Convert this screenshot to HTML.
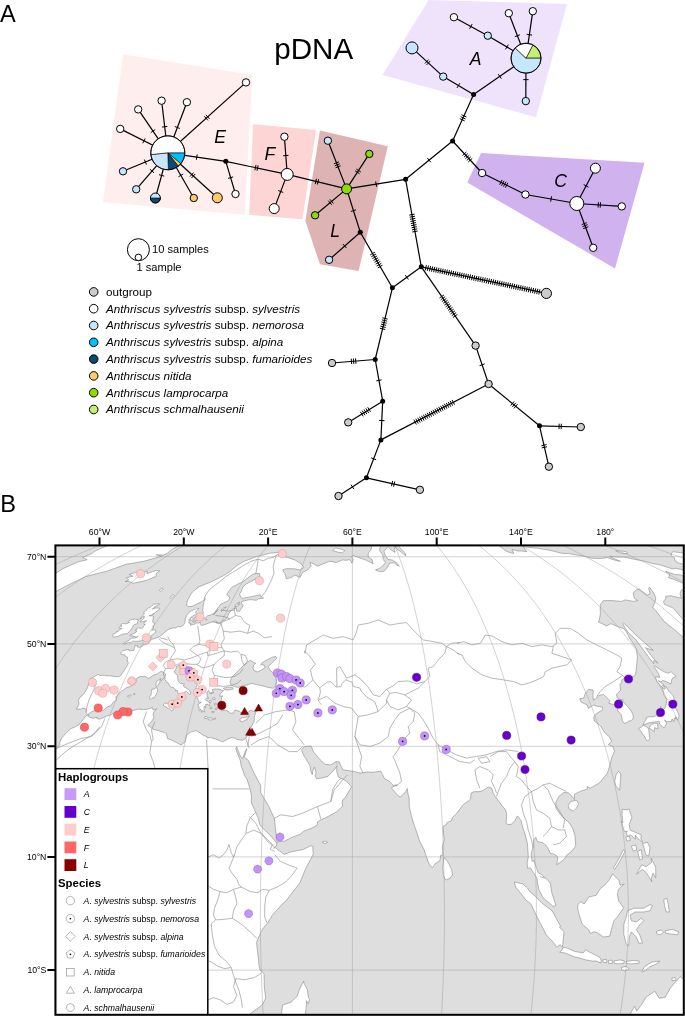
<!DOCTYPE html>
<html><head><meta charset="utf-8"><title>pDNA haplotype network and map</title>
<style>
html,body{margin:0;padding:0;background:#fff}
body{width:685px;height:1017px;overflow:hidden}
svg{display:block}
svg text{font-family:"Liberation Sans",sans-serif;fill:#000}
</style></head><body>
<svg width="685" height="1017" viewBox="0 0 685 1017">
<rect width="685" height="1017" fill="#fff"/>
<polygon fill="#feeeed" points="123.2,54.2 252.3,75.0 244.8,214.8 103.0,202.3"/>
<polygon fill="#fdd5d5" points="253.0,124.2 316.1,130.0 302.4,219.3 249.2,214.8"/>
<polygon fill="#ddb3b3" points="319.9,130.5 387.8,146.2 358.6,271.0 319.9,264.3 305.4,221.1"/>
<polygon fill="#efe2fb" points="428.7,0.0 567.0,4.0 536.0,117.3 382.5,74.9"/>
<polygon fill="#cfb2ee" points="481.1,153.1 644.6,162.7 615.0,268.4 467.3,182.6"/>
<g stroke="#000" stroke-width="1.2" stroke-linecap="butt">
<line x1="167.8" y1="152.8" x2="246.0" y2="82.4"/>
<line x1="167.8" y1="152.8" x2="161.6" y2="100.7"/>
<line x1="167.8" y1="152.8" x2="186.9" y2="102.2"/>
<line x1="167.8" y1="152.8" x2="138.2" y2="109.4"/>
<line x1="167.8" y1="152.8" x2="120.2" y2="128.9"/>
<line x1="167.8" y1="152.8" x2="123.0" y2="171.3"/>
<line x1="167.8" y1="152.8" x2="136.2" y2="189.3"/>
<line x1="167.8" y1="152.8" x2="155.4" y2="198.0"/>
<line x1="167.8" y1="152.8" x2="193.8" y2="198.0"/>
<line x1="167.8" y1="152.8" x2="217.3" y2="197.8"/>
<line x1="167.8" y1="152.8" x2="225.8" y2="161.3"/>
<line x1="225.8" y1="161.3" x2="235.5" y2="194.0"/>
<line x1="225.8" y1="161.3" x2="287.2" y2="174.4"/>
<line x1="287.2" y1="174.4" x2="284.4" y2="136.7"/>
<line x1="287.2" y1="174.4" x2="274.2" y2="208.6"/>
<line x1="287.2" y1="174.4" x2="346.6" y2="188.9"/>
<line x1="346.6" y1="188.9" x2="327.9" y2="140.7"/>
<line x1="346.6" y1="188.9" x2="369.3" y2="153.9"/>
<line x1="346.6" y1="188.9" x2="315.1" y2="215.3"/>
<line x1="346.6" y1="188.9" x2="360.3" y2="232.3"/>
<line x1="360.3" y1="232.3" x2="329.1" y2="259.8"/>
<line x1="360.3" y1="232.3" x2="392.4" y2="287.8"/>
<line x1="346.6" y1="188.9" x2="405.6" y2="179.3"/>
<line x1="405.6" y1="179.3" x2="452.6" y2="141.0"/>
<line x1="405.6" y1="179.3" x2="421.3" y2="266.8"/>
<line x1="452.6" y1="141.0" x2="473.6" y2="94.6"/>
<line x1="452.6" y1="141.0" x2="482.1" y2="173.0"/>
<line x1="421.3" y1="266.8" x2="392.4" y2="287.8"/>
<line x1="421.3" y1="266.8" x2="546.4" y2="293.4"/>
<line x1="421.3" y1="266.8" x2="475.6" y2="345.6"/>
<line x1="392.4" y1="287.8" x2="375.2" y2="359.5"/>
<line x1="375.2" y1="359.5" x2="332.0" y2="363.0"/>
<line x1="375.2" y1="359.5" x2="382.7" y2="401.2"/>
<line x1="382.7" y1="401.2" x2="348.2" y2="422.4"/>
<line x1="382.7" y1="401.2" x2="380.9" y2="439.9"/>
<line x1="380.9" y1="439.9" x2="488.6" y2="384.0"/>
<line x1="380.9" y1="439.9" x2="366.4" y2="477.8"/>
<line x1="366.4" y1="477.8" x2="338.5" y2="496.0"/>
<line x1="366.4" y1="477.8" x2="419.9" y2="489.8"/>
<line x1="475.6" y1="345.6" x2="488.6" y2="384.0"/>
<line x1="488.6" y1="384.0" x2="539.5" y2="425.8"/>
<line x1="539.5" y1="425.8" x2="580.8" y2="427.0"/>
<line x1="539.5" y1="425.8" x2="548.9" y2="466.7"/>
<line x1="473.6" y1="94.6" x2="526.0" y2="58.2"/>
<line x1="473.6" y1="94.6" x2="443.2" y2="76.6"/>
<line x1="443.2" y1="76.6" x2="412.0" y2="47.9"/>
<line x1="526.0" y1="58.2" x2="487.8" y2="35.7"/>
<line x1="487.8" y1="35.7" x2="453.9" y2="17.2"/>
<line x1="526.0" y1="58.2" x2="508.8" y2="13.2"/>
<line x1="526.0" y1="58.2" x2="532.8" y2="11.2"/>
<line x1="526.0" y1="58.2" x2="525.8" y2="101.1"/>
<line x1="482.1" y1="173.0" x2="525.4" y2="194.5"/>
<line x1="525.4" y1="194.5" x2="576.8" y2="203.5"/>
<line x1="576.8" y1="203.5" x2="595.4" y2="168.2"/>
<line x1="576.8" y1="203.5" x2="621.8" y2="206.4"/>
<line x1="576.8" y1="203.5" x2="593.2" y2="247.8"/>
</g>
<path d="M204.29 116.31L207.91 120.33M205.89 114.87L209.51 118.89M162.02 127.07L167.38 126.43M174.82 126.55L179.88 128.45M150.77 132.62L155.23 129.58M142.79 143.26L145.21 138.44M146.43 164.55L144.37 159.55M154.04 172.82L149.96 169.28M164.20 176.11L159.00 174.69M183.14 174.05L178.46 176.75M193.57 172.58L189.94 176.57M195.16 174.03L191.53 178.02M197.19 154.38L196.41 159.72M233.24 176.88L228.06 178.42M256.01 164.99L254.89 170.27M258.11 165.43L256.99 170.71M283.11 155.75L288.49 155.35M283.22 192.46L278.18 190.54M316.50 178.77L315.22 184.02M318.58 179.28L317.30 184.53M335.51 167.78L340.54 165.83M334.73 165.78L339.77 163.82M333.96 163.77L338.99 161.82M355.10 170.83L359.63 173.77M356.27 169.03L360.80 171.97M333.41 203.48L329.94 199.34M331.76 204.86L328.29 200.72M356.02 209.79L350.88 211.41M346.49 248.08L342.91 244.02M374.92 252.18L370.25 254.89M376.00 254.05L371.32 256.75M377.07 255.91L372.40 258.61M378.15 257.77L373.47 260.47M379.23 259.63L374.55 262.33M380.30 261.49L375.63 264.19M381.38 263.35L376.70 266.05M382.45 265.21L377.78 267.92M375.67 181.44L376.53 186.76M427.39 158.06L430.81 162.24M414.59 214.11L409.27 215.06M414.97 216.22L409.65 217.18M415.35 218.34L410.03 219.29M415.73 220.46L410.41 221.41M416.11 222.57L410.79 223.53M416.49 224.69L411.17 225.64M416.87 226.81L411.55 227.76M417.25 228.92L411.93 229.88M417.63 231.04L412.31 231.99M459.75 118.65L464.67 120.87M460.64 116.69L465.56 118.91M461.53 114.73L466.45 116.95M466.42 152.01L462.45 155.67M467.88 153.59L463.91 157.25M469.34 155.17L465.36 158.83M470.79 156.75L466.82 160.41M472.25 158.33L468.28 161.99M408.44 279.48L405.26 275.12M426.36 265.12L425.24 270.40M428.46 265.56L427.34 270.84M430.57 266.01L429.44 271.29M432.67 266.46L431.55 271.74M434.77 266.90L433.65 272.19M436.87 267.35L435.75 272.63M438.98 267.80L437.85 273.08M441.08 268.25L439.96 273.53M443.18 268.69L442.06 273.97M445.29 269.14L444.16 274.42M447.39 269.59L446.27 274.87M449.49 270.03L448.37 275.32M451.60 270.48L450.47 275.76M453.70 270.93L452.58 276.21M455.80 271.38L454.68 276.66M457.90 271.82L456.78 277.10M460.01 272.27L458.88 277.55M462.11 272.72L460.99 278.00M464.21 273.16L463.09 278.45M466.32 273.61L465.19 278.89M468.42 274.06L467.30 279.34M470.52 274.51L469.40 279.79M472.63 274.95L471.50 280.23M474.73 275.40L473.60 280.68M476.83 275.85L475.71 281.13M478.93 276.29L477.81 281.58M481.04 276.74L479.91 282.02M483.14 277.19L482.02 282.47M485.24 277.64L484.12 282.92M487.35 278.08L486.22 283.36M489.45 278.53L488.33 283.81M491.55 278.98L490.43 284.26M493.65 279.42L492.53 284.71M495.76 279.87L494.63 285.15M497.86 280.32L496.74 285.60M499.96 280.77L498.84 286.05M502.07 281.21L500.94 286.50M504.17 281.66L503.05 286.94M506.27 282.11L505.15 287.39M508.38 282.55L507.25 287.84M510.48 283.00L509.36 288.28M512.58 283.45L511.46 288.73M514.68 283.90L513.56 289.18M516.79 284.34L515.66 289.63M518.89 284.79L517.77 290.07M520.99 285.24L519.87 290.52M523.10 285.68L521.97 290.97M525.20 286.13L524.08 291.41M527.30 286.58L526.18 291.86M529.41 287.03L528.28 292.31M531.51 287.47L530.39 292.76M533.61 287.92L532.49 293.20M535.71 288.37L534.59 293.65M537.82 288.81L536.69 294.10M539.92 289.26L538.80 294.54M443.96 294.93L439.52 297.99M445.18 296.70L440.74 299.77M446.40 298.47L441.96 301.54M447.62 300.24L443.18 303.31M448.84 302.01L444.40 305.08M450.06 303.78L445.62 306.85M451.28 305.55L446.84 308.62M452.50 307.32L448.06 310.39M453.72 309.09L449.28 312.16M454.94 310.86L450.50 313.93M456.16 312.63L451.72 315.70M457.38 314.41L452.94 317.47M387.68 319.05L382.43 317.79M387.18 321.14L381.93 319.88M386.68 323.23L381.43 321.97M386.17 325.33L380.92 324.07M385.67 327.42L380.42 326.16M385.17 329.51L379.92 328.25M355.96 363.77L355.52 358.39M353.82 363.94L353.38 358.56M351.68 364.11L351.24 358.73M381.61 379.87L376.29 380.83M370.53 411.85L367.70 407.25M368.70 412.97L365.87 408.37M366.86 414.10L364.04 409.50M365.03 415.23L362.20 410.63M363.20 416.35L360.37 411.75M384.50 420.68L379.10 420.42M413.89 419.73L416.38 424.53M415.80 418.74L418.29 423.54M417.71 417.75L420.20 422.55M419.62 416.76L422.10 421.56M421.52 415.77L424.01 420.57M423.43 414.78L425.92 419.58M425.34 413.79L427.83 418.58M427.25 412.80L429.74 417.59M429.16 411.81L431.64 416.60M431.07 410.82L433.55 415.61M432.97 409.83L435.46 414.62M434.88 408.84L437.37 413.63M436.79 407.85L439.28 412.64M438.70 406.86L441.19 411.65M440.61 405.87L443.09 410.66M442.51 404.88L445.00 409.67M444.42 403.89L446.91 408.68M446.33 402.90L448.82 407.69M448.24 401.91L450.73 406.70M450.15 400.92L452.64 405.71M452.06 399.93L454.54 404.72M376.17 459.81L371.13 457.89M353.93 489.16L350.97 484.64M392.69 480.93L391.51 486.20M394.79 481.40L393.61 486.67M484.66 363.93L479.54 365.67M514.10 401.45L510.67 405.62M515.76 402.81L512.34 406.99M517.43 404.18L514.00 408.35M559.15 423.67L559.00 429.07M561.30 423.73L561.15 429.13M546.59 444.60L541.33 445.81M547.07 446.69L541.81 447.90M498.26 74.18L501.34 78.62M457.02 87.92L459.78 83.28M426.56 64.96L430.22 60.99M424.98 63.51L428.64 59.54M505.53 49.28L508.27 44.62M469.56 28.82L472.14 24.08M514.88 36.66L519.92 34.74M526.73 34.31L532.07 35.09M528.60 79.66L523.20 79.64M502.06 179.90L499.66 184.73M503.99 180.85L501.59 185.69M505.91 181.81L503.51 186.65M507.84 182.77L505.44 187.60M551.57 196.34L550.63 201.66M583.71 184.59L588.49 187.11M598.40 202.19L598.05 207.58M600.55 202.32L600.20 207.71M586.79 222.70L581.72 224.57M587.53 224.71L582.47 226.59M588.28 226.73L583.21 228.60" stroke="#000" stroke-width="1" fill="none"/>
<circle cx="167.8" cy="152.8" r="17.0" fill="#fff"/>
<path d="M167.80 152.80L184.80 152.80A17.00 17.00 0 0 1 180.82 163.73Z" fill="#00bfff" stroke="#000" stroke-width="0.6" stroke-linejoin="round"/>
<path d="M167.80 152.80L180.82 163.73A17.00 17.00 0 0 1 178.27 166.20Z" fill="#fbcb6b" stroke="#000" stroke-width="0.6" stroke-linejoin="round"/>
<path d="M167.80 152.80L178.27 166.20A17.00 17.00 0 0 1 168.39 169.79Z" fill="#0b4a72" stroke="#000" stroke-width="0.6" stroke-linejoin="round"/>
<path d="M167.80 152.80L168.39 169.79A17.00 17.00 0 0 1 150.89 154.58Z" fill="#c6e6fb" stroke="#000" stroke-width="0.6" stroke-linejoin="round"/>
<path d="M167.80 152.80L150.89 154.58A17.00 17.00 0 1 1 184.80 152.80Z" fill="#ffffff" stroke="#000" stroke-width="0.6" stroke-linejoin="round"/>
<circle cx="167.8" cy="152.8" r="17.0" fill="none" stroke="#000" stroke-width="1"/>
<circle cx="246.0" cy="82.4" r="3.7" fill="#ffffff" stroke="#000" stroke-width="1"/>
<circle cx="161.6" cy="100.7" r="3.7" fill="#ffffff" stroke="#000" stroke-width="1"/>
<circle cx="186.9" cy="102.2" r="3.7" fill="#ffffff" stroke="#000" stroke-width="1"/>
<circle cx="138.2" cy="109.4" r="3.7" fill="#ffffff" stroke="#000" stroke-width="1"/>
<circle cx="120.2" cy="128.9" r="3.7" fill="#ffffff" stroke="#000" stroke-width="1"/>
<circle cx="123.0" cy="171.3" r="3.7" fill="#c6e6fb" stroke="#000" stroke-width="1"/>
<circle cx="136.2" cy="189.3" r="3.7" fill="#c6e6fb" stroke="#000" stroke-width="1"/>
<circle cx="155.4" cy="198.0" r="5.0" fill="#c6e6fb"/>
<path d="M160.4 198.0A5.0 5.0 0 0 1 150.4 198.0Z" fill="#0b4a72" stroke="#000" stroke-width="0.6"/>
<circle cx="155.4" cy="198.0" r="5.0" fill="none" stroke="#000" stroke-width="1"/>
<circle cx="193.8" cy="198.0" r="3.7" fill="#fbcb6b" stroke="#000" stroke-width="1"/>
<circle cx="217.3" cy="197.8" r="5.0" fill="#fbcb6b" stroke="#000" stroke-width="1"/>
<circle cx="225.8" cy="161.3" r="2.5" fill="#000"/>
<circle cx="235.5" cy="194.0" r="3.7" fill="#ffffff" stroke="#000" stroke-width="1"/>
<circle cx="287.2" cy="174.4" r="6.0" fill="#ffffff" stroke="#000" stroke-width="1"/>
<circle cx="284.4" cy="136.7" r="3.7" fill="#ffffff" stroke="#000" stroke-width="1"/>
<circle cx="274.2" cy="208.6" r="5.0" fill="#ffffff" stroke="#000" stroke-width="1"/>
<circle cx="346.6" cy="188.9" r="5.0" fill="#8edb00" stroke="#000" stroke-width="1"/>
<circle cx="327.9" cy="140.7" r="3.7" fill="#c6e6fb" stroke="#000" stroke-width="1"/>
<circle cx="369.3" cy="153.9" r="3.7" fill="#8edb00" stroke="#000" stroke-width="1"/>
<circle cx="315.1" cy="215.3" r="3.7" fill="#8edb00" stroke="#000" stroke-width="1"/>
<circle cx="360.3" cy="232.3" r="2.5" fill="#000"/>
<circle cx="329.1" cy="259.8" r="3.7" fill="#c6e6fb" stroke="#000" stroke-width="1"/>
<circle cx="405.6" cy="179.3" r="2.5" fill="#000"/>
<circle cx="452.6" cy="141.0" r="2.5" fill="#000"/>
<circle cx="421.3" cy="266.8" r="2.5" fill="#000"/>
<circle cx="392.4" cy="287.8" r="2.5" fill="#000"/>
<circle cx="375.2" cy="359.5" r="2.5" fill="#000"/>
<circle cx="382.7" cy="401.2" r="2.5" fill="#000"/>
<circle cx="380.9" cy="439.9" r="2.5" fill="#000"/>
<circle cx="366.4" cy="477.8" r="2.5" fill="#000"/>
<circle cx="539.5" cy="425.8" r="2.5" fill="#000"/>
<circle cx="546.4" cy="293.4" r="5.1" fill="#cccccc" stroke="#000" stroke-width="1"/>
<circle cx="475.6" cy="345.6" r="3.7" fill="#cccccc" stroke="#000" stroke-width="1"/>
<circle cx="488.6" cy="384.0" r="3.7" fill="#cccccc" stroke="#000" stroke-width="1"/>
<circle cx="332.0" cy="363.0" r="3.7" fill="#cccccc" stroke="#000" stroke-width="1"/>
<circle cx="348.2" cy="422.4" r="3.7" fill="#cccccc" stroke="#000" stroke-width="1"/>
<circle cx="338.5" cy="496.0" r="3.7" fill="#cccccc" stroke="#000" stroke-width="1"/>
<circle cx="419.9" cy="489.8" r="3.7" fill="#cccccc" stroke="#000" stroke-width="1"/>
<circle cx="580.8" cy="427.0" r="3.7" fill="#cccccc" stroke="#000" stroke-width="1"/>
<circle cx="548.9" cy="466.7" r="3.7" fill="#cccccc" stroke="#000" stroke-width="1"/>
<circle cx="473.6" cy="94.6" r="2.5" fill="#000"/>
<path d="M526.00 58.20L532.93 44.89A15.00 15.00 0 0 1 541.00 58.20Z" fill="#c3f070" stroke="#000" stroke-width="0.6" stroke-linejoin="round"/>
<path d="M526.00 58.20L541.00 58.20A15.00 15.00 0 1 1 515.12 47.87Z" fill="#c6e6fb" stroke="#000" stroke-width="0.6" stroke-linejoin="round"/>
<path d="M526.00 58.20L515.12 47.87A15.00 15.00 0 0 1 532.93 44.89Z" fill="#ffffff" stroke="#000" stroke-width="0.6" stroke-linejoin="round"/>
<circle cx="526.0" cy="58.2" r="15.0" fill="none" stroke="#000" stroke-width="1"/>
<circle cx="443.2" cy="76.6" r="3.7" fill="#c6e6fb" stroke="#000" stroke-width="1"/>
<circle cx="412.0" cy="47.9" r="6.0" fill="#c6e6fb" stroke="#000" stroke-width="1"/>
<circle cx="487.8" cy="35.7" r="3.7" fill="#c6e6fb" stroke="#000" stroke-width="1"/>
<circle cx="453.9" cy="17.2" r="3.7" fill="#ffffff" stroke="#000" stroke-width="1"/>
<circle cx="508.8" cy="13.2" r="3.7" fill="#ffffff" stroke="#000" stroke-width="1"/>
<circle cx="532.8" cy="11.2" r="3.7" fill="#ffffff" stroke="#000" stroke-width="1"/>
<circle cx="525.8" cy="101.1" r="3.7" fill="#c6e6fb" stroke="#000" stroke-width="1"/>
<circle cx="482.1" cy="173.0" r="3.7" fill="#ffffff" stroke="#000" stroke-width="1"/>
<circle cx="525.4" cy="194.5" r="3.7" fill="#ffffff" stroke="#000" stroke-width="1"/>
<circle cx="576.8" cy="203.5" r="7.0" fill="#ffffff" stroke="#000" stroke-width="1"/>
<circle cx="595.4" cy="168.2" r="5.0" fill="#ffffff" stroke="#000" stroke-width="1"/>
<circle cx="621.8" cy="206.4" r="3.7" fill="#ffffff" stroke="#000" stroke-width="1"/>
<circle cx="593.2" cy="247.8" r="3.7" fill="#ffffff" stroke="#000" stroke-width="1"/>
<text x="0" y="22.4" font-size="23.6">A</text>
<text x="274.2" y="58.7" font-size="29.6">pDNA</text>
<text x="214.3" y="143.1" font-size="17.6" font-style="italic">E</text>
<text x="264.5" y="160.0" font-size="17.6" font-style="italic">F</text>
<text x="330.3" y="236.5" font-size="17.6" font-style="italic">L</text>
<text x="469.7" y="65.4" font-size="17.6" font-style="italic">A</text>
<text x="554.3" y="186.5" font-size="17.6" font-style="italic">C</text>
<circle cx="138.4" cy="249.7" r="11" fill="#fff" stroke="#000" stroke-width="1"/>
<circle cx="138.4" cy="257.4" r="3.3" fill="#fff" stroke="#000" stroke-width="1"/>
<text x="152" y="252.7" font-size="11.1">10 samples</text>
<text x="136.5" y="271.2" font-size="11.1">1 sample</text>
<circle cx="93.7" cy="291.9" r="4.3" fill="#cccccc" stroke="#000" stroke-width="1"/>
<text x="106" y="295.8" font-size="11.65">outgroup</text>
<circle cx="93.7" cy="308.7" r="4.3" fill="#ffffff" stroke="#000" stroke-width="1"/>
<text x="106" y="312.6" font-size="11.65"><tspan font-style="italic">Anthriscus sylvestris</tspan> subsp. <tspan font-style="italic">sylvestris</tspan></text>
<circle cx="93.7" cy="325.5" r="4.3" fill="#c6e6fb" stroke="#000" stroke-width="1"/>
<text x="106" y="329.4" font-size="11.65"><tspan font-style="italic">Anthriscus sylvestris</tspan> subsp. <tspan font-style="italic">nemorosa</tspan></text>
<circle cx="93.7" cy="342.3" r="4.3" fill="#00bfff" stroke="#000" stroke-width="1"/>
<text x="106" y="346.2" font-size="11.65"><tspan font-style="italic">Anthriscus sylvestris</tspan> subsp. <tspan font-style="italic">alpina</tspan></text>
<circle cx="93.7" cy="359.1" r="4.3" fill="#0b4a72" stroke="#000" stroke-width="1"/>
<text x="106" y="363.0" font-size="11.65"><tspan font-style="italic">Anthriscus sylvestris</tspan> subsp. <tspan font-style="italic">fumarioides</tspan></text>
<circle cx="93.7" cy="375.9" r="4.3" fill="#fbcb6b" stroke="#000" stroke-width="1"/>
<text x="106" y="379.8" font-size="11.65" font-style="italic">Anthriscus nitida</text>
<circle cx="93.7" cy="392.7" r="4.3" fill="#8edb00" stroke="#000" stroke-width="1"/>
<text x="106" y="396.6" font-size="11.65" font-style="italic">Anthriscus lamprocarpa</text>
<circle cx="93.7" cy="409.5" r="4.3" fill="#c3f070" stroke="#000" stroke-width="1"/>
<text x="106" y="413.4" font-size="11.65" font-style="italic">Anthriscus schmalhausenii</text>
<defs><clipPath id="mapclip"><rect x="55.4" y="545.4" width="628.4" height="469.4"/></clipPath></defs>
<g clip-path="url(#mapclip)">
<rect x="55.4" y="545.4" width="628.4" height="469.4" fill="#dedede"/>
<g fill="#fff" stroke="#8a8a8a" stroke-width="0.6" stroke-linejoin="round">
<path d="M12.9 795.4L21.7 780.5L31.7 767.4L41.6 757.4L49.4 754.3L55.9 749.6L60.2 744.0L59.5 742.9L61.6 738.2L65.3 734.0L70.3 728.9L74.6 727.1L78.7 724.8L80.0 723.5L83.9 718.6L86.0 715.6L86.5 715.6L88.8 714.9L88.3 716.5L93.0 718.3L97.3 717.4L97.1 718.6L99.5 719.1L107.2 715.9L110.6 714.8L116.6 711.7L124.1 710.3L127.8 709.6L132.3 710.4L135.1 710.1L138.6 709.1L143.3 709.6L147.3 709.3L152.3 707.5L153.3 710.0L156.7 708.8L153.8 712.3L153.0 715.3L154.3 717.0L151.9 721.1L147.8 725.6L151.4 727.6L152.8 729.3L159.1 730.8L163.3 732.1L166.4 733.5L167.7 738.8L171.1 739.8L178.5 743.6L181.0 744.9L185.1 742.0L186.7 734.9L191.0 731.8L196.2 730.7L198.1 731.5L202.9 735.1L207.2 736.8L207.2 737.8L210.5 737.6L215.7 739.0L222.4 741.8L226.7 739.8L228.9 738.4L232.0 737.7L235.1 738.1L236.8 739.4L242.9 740.2L245.9 738.2L247.7 735.1L249.1 731.2L250.3 728.8L251.9 725.5L253.7 722.6L254.3 720.2L254.3 716.9L254.8 715.2L255.4 714.0L255.4 712.3L256.7 711.3L253.4 711.5L250.6 710.3L247.6 712.8L242.7 714.3L239.9 711.6L235.0 709.8L233.8 712.3L233.2 713.4L232.3 712.9L230.1 713.4L228.4 711.2L225.2 710.1L221.5 710.9L222.1 709.0L221.7 707.4L222.3 704.7L219.0 702.3L222.3 701.8L221.2 700.5L221.7 697.2L223.0 695.9L219.5 696.3L220.6 693.7L220.6 693.4L223.7 690.5L220.9 690.1L220.4 689.3L214.8 688.9L212.1 689.8L213.7 693.0L211.7 692.1L211.9 693.9L210.4 692.7L210.8 694.0L209.3 692.1L208.8 690.6L206.9 692.4L207.2 695.7L208.0 697.3L208.4 698.3L206.7 697.8L205.1 699.5L207.1 700.9L208.5 701.6L209.7 703.2L209.2 705.8L208.0 704.4L205.5 704.4L205.8 705.9L205.9 707.5L205.2 707.1L204.2 706.3L204.0 708.4L204.5 712.2L202.3 710.5L201.5 712.4L200.8 709.1L199.5 710.7L198.9 710.1L199.3 707.9L198.5 705.8L198.1 704.4L200.9 702.7L201.4 702.0L199.6 702.3L198.7 701.2L197.9 699.1L197.0 697.4L196.7 696.2L196.3 694.3L194.3 691.6L195.1 691.4L196.3 686.9L197.5 684.5L196.2 683.9L196.0 683.0L194.5 681.4L193.1 680.2L191.3 678.3L190.1 676.9L188.3 675.9L186.6 674.7L184.8 672.8L185.2 668.4L184.1 666.8L182.7 667.9L181.1 669.5L181.0 669.0L180.6 668.0L180.9 665.9L181.9 665.7L182.2 665.2L181.7 664.5L180.9 665.0L176.6 666.3L176.2 668.6L174.4 671.3L174.8 673.0L177.5 675.3L178.1 681.1L180.3 683.5L182.6 683.8L184.6 684.1L183.2 685.4L184.1 686.9L186.0 687.9L189.5 690.3L190.8 692.9L189.8 694.7L188.7 693.4L186.4 691.3L184.5 691.9L182.4 695.0L184.1 698.7L181.5 699.8L178.0 704.4L176.6 703.5L177.1 702.7L178.1 700.8L180.0 699.3L180.0 697.0L179.7 693.8L178.1 693.5L177.2 690.2L175.3 690.8L175.4 689.4L173.4 687.5L171.5 687.4L170.2 686.3L169.2 684.8L168.1 683.0L166.0 681.6L164.8 678.8L165.2 675.6L165.6 674.0L164.5 673.0L161.8 671.4L159.9 671.9L157.4 674.0L155.6 674.5L154.1 674.9L152.8 675.6L150.9 677.1L148.5 678.3L147.8 677.9L146.1 676.9L144.6 676.4L143.2 676.7L140.1 676.4L139.0 677.0L137.1 677.9L136.1 679.9L135.9 681.3L136.3 681.9L135.5 682.2L134.5 684.2L129.9 686.6L125.7 688.1L123.4 690.0L121.4 691.3L118.5 693.8L116.1 696.5L115.9 697.9L116.7 700.2L113.1 702.2L110.8 705.9L109.6 706.1L106.8 707.1L103.0 710.7L102.1 710.1L97.6 710.7L94.0 710.7L91.7 711.8L89.1 713.7L87.8 714.4L86.4 713.5L86.1 711.6L86.4 710.3L84.9 708.3L83.1 708.1L80.6 709.2L76.4 709.1L79.0 704.3L78.7 701.8L78.5 700.0L80.3 696.9L82.1 695.7L84.3 692.9L86.0 690.3L87.5 687.8L88.3 685.0L89.4 682.5L89.8 679.0L94.4 676.6L98.1 674.4L99.9 675.6L104.7 675.1L105.1 675.6L112.0 676.1L114.6 676.4L118.4 676.8L120.4 676.0L124.4 670.1L127.3 665.6L128.4 662.7L127.1 661.0L127.6 657.3L125.1 656.0L124.7 654.9L121.3 654.6L120.7 653.4L121.4 652.0L122.8 650.7L125.2 650.1L129.0 649.5L129.4 650.9L132.1 650.4L133.9 650.5L134.1 649.6L135.3 645.3L136.3 645.6L137.6 645.4L137.3 647.0L139.9 647.3L141.9 646.3L143.6 645.0L146.5 644.3L148.8 643.0L150.5 640.4L151.9 639.4L156.3 637.9L159.1 637.0L160.5 635.8L162.5 634.4L165.3 632.0L167.2 629.9L170.1 628.7L173.3 627.8L176.1 628.0L178.0 626.4L180.1 626.9L182.8 625.6L184.0 624.5L184.8 622.7L185.1 620.8L185.4 618.1L186.5 615.8L188.1 613.3L191.1 610.8L196.7 608.5L199.1 607.9L188.8 606.7L186.5 605.4L187.0 602.7L187.1 601.0L189.0 597.9L190.3 595.2L192.2 592.6L195.1 589.6L197.8 587.9L197.5 587.4L203.3 584.9L209.9 582.4L216.6 579.1L223.3 575.8L229.9 571.6L236.6 565.8L243.2 561.6L249.9 559.1L256.5 556.6L263.2 555.0L269.9 553.3L276.5 552.5L281.5 552.0L277.5 555.0L287.5 557.5L295.0 560.0L301.2 563.7L303.7 567.5L300.0 570.0L293.7 568.7L286.2 568.7L282.5 570.0L285.0 573.7L286.2 578.7L291.2 577.5L295.0 575.0L300.0 577.5L302.5 572.5L307.4 570.0L311.2 566.2L309.9 562.5L313.7 563.7L317.4 566.2L323.7 563.7L329.9 561.2L336.2 562.5L342.4 560.0L346.1 560.3L349.7 559.6L351.9 563.2L353.4 559.6L351.2 556.7L353.4 555.5L359.2 557.8L366.5 560.3L373.1 563.7L372.0 559.6L368.2 557.0L368.2 553.0L370.9 550.1L372.3 544.3L372.3 538.0L498.0 538.0L497.8 544.8L503.8 549.1L504.7 550.4L510.6 552.9L513.8 553.3L512.0 549.5L518.0 551.0L521.3 551.0L526.9 551.7L524.2 548.0L523.4 546.0L527.3 547.3L539.0 548.4L549.9 550.3L555.5 551.7L562.1 553.3L568.5 553.6L584.5 556.3L591.6 558.2L598.8 558.6L605.9 558.0L605.8 557.1L615.7 560.5L620.4 561.3L612.3 557.8L609.6 556.3L616.8 557.1L623.8 557.1L634.8 559.4L643.0 560.9L651.7 563.3L660.9 565.0L669.8 568.0L672.3 568.8L676.1 568.2L684.6 570.4L691.7 572.2L692.3 574.1L694.1 576.6L696.1 579.1L691.8 579.3L680.7 574.9L674.6 574.5L665.4 571.3L669.6 574.1L669.2 576.6L668.4 577.6L674.5 579.5L684.1 583.7L691.2 588.1L681.2 590.1L680.0 593.9L681.4 598.3L670.8 595.7L665.8 596.3L665.6 598.8L663.7 601.2L664.1 604.1L673.2 608.1L676.7 612.1L679.0 614.9L685.4 621.5L682.8 622.7L686.8 629.2L682.8 629.7L686.4 634.4L686.0 639.8L676.4 631.3L664.0 621.3L655.9 610.8L652.8 607.6L655.1 601.8L655.8 597.9L653.9 593.5L649.5 587.1L648.6 588.3L649.1 590.1L650.2 593.5L647.2 595.2L641.6 590.9L639.5 589.2L636.7 589.6L633.8 592.2L633.2 593.9L634.3 598.3L637.9 600.5L633.5 601.4L625.1 599.9L621.4 601.4L611.4 600.5L603.2 600.7L600.4 604.5L600.2 609.0L600.4 613.7L599.3 620.4L598.2 621.8L606.6 625.9L610.9 623.6L618.6 626.9L623.9 628.7L627.1 633.0L628.9 636.8L636.4 648.7L637.4 657.0L636.4 668.4L635.5 674.9L629.0 679.4L624.4 677.9L621.5 680.2L622.0 682.0L619.9 684.5L620.6 690.3L616.3 694.4L617.4 698.0L622.4 700.9L626.4 705.3L630.1 709.2L632.8 714.2L633.4 717.0L632.9 719.1L630.9 720.7L628.2 721.2L627.1 722.6L624.2 723.4L622.5 720.7L621.2 714.7L617.6 710.5L617.9 706.8L613.2 704.3L608.9 703.5L609.6 700.4L603.4 694.4L598.8 695.5L595.1 699.3L593.5 700.1L592.9 696.2L593.2 690.3L588.7 689.3L588.1 690.1L585.0 694.2L583.8 698.0L579.6 698.8L581.3 702.2L587.3 705.0L588.2 708.4L592.4 705.8L593.8 704.9L597.0 706.3L600.1 706.6L602.5 707.1L602.7 709.7L595.7 714.2L593.7 717.6L594.3 721.0L600.6 726.0L604.5 732.4L609.8 737.2L610.9 739.8L611.5 741.7L608.2 744.6L612.8 746.5L614.6 751.1L611.9 757.3L610.8 761.4L609.2 767.6L606.9 774.2L604.6 776.4L600.1 782.4L594.6 785.7L590.1 788.2L587.1 786.5L587.4 789.0L580.7 791.2L574.4 794.2L574.4 799.5L571.6 795.9L568.5 792.9L565.1 792.3L563.6 792.6L558.9 796.5L556.5 800.9L555.8 802.3L555.9 808.1L560.6 814.8L566.0 820.1L569.0 822.6L572.5 827.9L575.0 835.8L575.6 844.2L575.7 846.2L571.2 851.8L566.9 854.9L564.5 859.1L556.8 864.8L557.9 856.9L555.0 854.6L552.7 853.8L550.4 853.5L547.7 847.8L545.7 845.0L542.8 842.8L539.5 841.9L537.7 841.9L535.8 837.2L533.7 840.0L533.6 842.5L533.1 846.7L531.1 854.0L532.2 861.4L534.2 860.8L535.7 865.9L538.3 872.7L541.3 874.4L544.2 877.2L546.1 878.3L550.4 883.2L551.6 891.9L554.0 899.6L555.9 905.6L554.1 906.3L552.3 905.8L549.7 903.3L546.7 901.0L544.6 899.3L542.5 896.5L538.9 889.7L537.5 882.9L537.2 878.9L535.9 876.4L533.0 872.1L530.3 867.9L527.5 868.2L527.1 863.1L528.3 857.1L527.4 843.1L524.9 833.8L522.7 827.3L521.0 820.4L517.4 815.9L515.1 820.4L511.4 824.3L507.9 824.6L506.0 823.2L506.7 814.2L505.4 809.5L502.1 805.9L498.0 800.1L495.2 796.5L493.1 792.9L491.8 788.2L488.2 787.1L486.6 788.2L482.0 790.9L478.2 791.8L475.5 791.5L473.4 792.0L471.2 792.9L470.5 799.2L466.9 802.0L463.8 804.2L463.0 805.0L456.4 813.7L452.2 817.8L451.5 820.9L447.3 822.3L446.3 824.6L443.2 826.2L443.3 832.1L444.3 839.4L442.5 846.2L442.8 855.2L440.8 855.2L439.8 860.8L435.3 863.6L432.6 867.7L429.6 865.3L426.5 857.1L424.1 849.8L419.4 840.5L415.9 829.9L414.5 825.9L411.8 817.6L409.3 806.7L409.2 798.7L408.2 794.8L407.2 788.5L406.0 791.2L400.7 797.0L398.1 795.9L394.6 791.8L391.7 788.5L392.1 787.2L397.4 784.9L393.3 785.4L389.0 781.0L384.6 778.8L382.5 774.5L380.7 771.2L372.5 772.3L367.3 772.0L362.5 772.7L360.0 773.1L355.0 771.7L342.8 769.8L339.1 761.9L336.3 761.6L336.9 765.8L336.7 771.4L338.3 776.9L346.3 781.0L351.5 786.9L344.9 798.1L342.7 799.8L342.2 802.8L342.6 806.4L336.3 812.0L326.0 817.6L321.5 819.5L317.4 822.0L317.3 825.1L313.0 827.6L303.4 831.4L299.8 834.4L292.3 837.2L284.5 841.1L277.4 841.9L276.8 842.9L276.6 845.9L273.4 848.1L275.9 847.8L277.3 849.3L284.2 854.4L291.0 851.8L298.7 850.4L303.2 849.6L310.4 845.8L312.8 846.5L313.2 854.3L310.4 859.7L305.8 868.3L299.7 883.2L285.0 902.0L282.4 903.9L272.1 915.5L267.8 922.9L264.6 926.4L261.0 931.8L259.0 936.5L256.5 942.3L257.6 952.2L258.4 957.7L258.8 964.2L260.0 970.1L262.2 971.7L264.1 974.1L264.3 987.0L265.4 995.5L265.6 998.4L262.2 1005.0L249.3 1014.4L241.0 1025.3L55.0 1016.0L55.0 784.0Z"/>
<path d="M41.9 598.8L39.8 597.4L41.1 594.8L37.5 592.6L38.7 589.2L42.5 584.9L48.1 579.9L53.5 574.9L62.6 568.8L72.1 564.5L78.6 561.7L87.1 559.8L82.7 557.4L87.1 555.5L90.9 554.0L95.9 550.6L105.9 546.2L115.1 541.9L126.6 536.7L125.3 534.3L128.8 528.4L196.8 516.3L248.3 512.0L255.2 518.0L236.9 522.1L219.1 528.4L213.5 531.6L203.7 535.0L199.6 538.4L189.1 541.9L179.6 545.5L172.2 549.1L167.8 552.9L163.5 555.1L156.1 554.8L161.8 556.1L153.4 558.6L143.7 561.3L132.8 563.3L126.7 564.1L114.7 568.4L106.5 571.3L100.0 572.9L95.3 574.1L85.6 576.6L77.3 580.7L68.3 584.9L60.1 589.2L52.9 593.5L46.6 597.0Z"/>
<path d="M159.3 590.4L161.8 587.9L163.3 588.9L160.8 591.4Z"/>
<path d="M169.8 597.4L173.3 594.4L174.3 595.4L171.3 598.4Z"/>
<path d="M127.4 696.3L129.6 695.0L131.2 695.6L129.4 697.1Z"/>
<path d="M133.2 694.1L134.5 693.5L135.2 694.3L133.9 694.8Z"/>
<path d="M642.6 843.6L647.5 842.4L650.0 847.4L648.8 856.1L645.8 854.9L644.3 848.6Z"/>
<path d="M631.3 846.1L635.8 844.9L636.8 849.9L633.3 851.1Z"/>
<path d="M637.6 851.1L641.3 849.9L642.6 858.6L639.6 859.9Z"/>
<path d="M625.8 836.9L629.3 836.1L630.3 840.4L626.8 841.1Z"/>
<path d="M613.4 867.8L617.6 861.1L623.3 849.9L625.1 851.1L619.3 862.3L614.8 869.3Z"/>
<path d="M602.6 959.9L606.4 959.4L606.9 962.4L603.4 962.6Z"/>
<path d="M608.4 960.6L611.9 960.1L612.4 963.4L608.9 963.6Z"/>
<path d="M613.9 960.9L620.1 959.9L624.3 960.9L623.8 963.4L617.6 963.9L614.3 963.4Z"/>
<path d="M626.3 961.4L633.8 960.4L639.3 961.1L638.8 963.4L631.3 963.9L626.8 963.6Z"/>
<path d="M621.3 967.4L626.3 966.4L629.3 968.9L625.1 970.9L621.8 969.9Z"/>
<path d="M627.6 910.7L633.8 908.2L643.8 908.2L650.0 904.5L652.5 905.7L650.0 910.7L643.8 912.0L635.1 912.0L630.1 915.0L631.3 920.7L636.3 921.9L641.3 918.2L643.8 920.7L640.1 924.4L636.3 929.4L640.1 935.7L642.6 943.2L638.8 943.2L636.3 936.9L631.3 931.9L629.3 936.9L628.8 945.7L626.3 944.4L623.8 934.4L623.8 924.4L626.3 917.0Z"/>
<path d="M663.8 899.5L666.8 898.2L668.3 904.5L669.3 912.0L666.3 912.0L664.5 905.7Z"/>
<path d="M656.3 931.4L661.3 929.9L663.8 932.4L660.0 934.9L656.8 933.9Z"/>
<path d="M665.0 930.7L672.5 929.4L678.8 931.9L677.5 934.9L670.0 933.9L665.5 933.2Z"/>
<path d="M322.1 842.3L324.6 841.1L327.6 842.3L325.1 843.6Z"/>
<path d="M332.4 550.5L335.4 548.0L339.9 548.7L344.9 550.5L342.4 553.0L337.4 552.0Z"/>
<path d="M212.4 698.3L214.6 697.6L215.2 699.3L213.2 699.9Z"/>
<path d="M214.1 703.6L215.9 702.9L216.2 704.6L214.6 705.3Z"/>
<path d="M215.2 708.3L217.2 707.9L217.2 709.6L215.6 709.8Z"/>
<path d="M209.9 707.4L211.6 706.9L211.9 708.6L210.2 708.9Z"/>
<path d="M211.9 711.6L213.9 711.3L213.9 712.6L212.2 712.9Z"/>
<path d="M209.2 701.6L210.6 699.9L211.2 701.9L209.9 702.9Z"/>
<path d="M123.2 643.6L124.6 644.1L129.4 642.2L130.8 642.9L132.8 641.0L135.8 641.4L140.0 641.1L142.1 640.5L145.8 640.4L148.8 639.6L150.7 638.5L151.7 637.3L148.7 637.0L150.6 636.3L152.8 634.6L155.9 632.1L155.6 630.0L153.0 629.9L151.7 630.4L153.1 629.0L153.6 627.0L152.5 626.4L154.5 624.4L153.9 622.7L152.6 622.0L152.9 620.3L153.4 616.8L153.4 616.2L152.6 615.8L150.3 615.9L148.9 615.6L153.3 614.5L152.8 613.7L154.2 613.3L157.7 610.6L159.8 609.0L159.8 608.1L155.9 608.0L152.3 609.0L154.9 607.3L154.3 607.3L156.2 606.2L159.0 604.8L159.9 603.9L159.0 603.7L156.8 604.1L153.8 604.0L151.9 605.6L150.3 607.2L148.3 608.0L146.8 609.4L146.8 610.0L145.4 611.2L143.3 612.5L144.4 614.0L143.0 615.3L139.6 619.0L140.9 618.4L142.6 616.9L144.6 616.2L143.9 618.3L140.7 620.8L140.5 622.1L143.7 621.3L146.6 620.6L144.0 622.7L144.2 624.5L145.3 624.5L143.8 625.8L142.6 627.6L141.7 628.3L139.6 628.1L137.5 627.8L136.8 628.3L137.2 629.2L134.9 630.6L137.0 631.0L135.9 632.4L132.9 633.9L130.1 635.0L130.2 635.9L132.7 635.8L132.9 636.5L133.9 636.3L136.2 637.0L138.2 636.3L137.7 636.8L136.4 637.5L134.3 638.1L132.2 638.1L130.2 639.0L129.5 639.9L127.3 641.3L124.4 642.9Z"/>
<path d="M134.8 618.6L135.6 619.4L136.5 619.4L138.2 619.4L138.1 621.1L137.4 622.0L137.8 623.1L136.8 623.8L133.6 625.0L132.9 626.3L132.0 628.0L131.2 629.8L130.2 630.6L127.4 633.6L125.4 633.8L122.9 634.1L121.7 634.6L119.8 635.3L118.3 636.2L116.3 636.8L113.3 637.0L112.5 636.3L113.2 635.6L112.9 634.9L113.4 633.9L115.8 633.1L116.1 632.4L117.5 631.6L116.7 631.7L118.1 631.1L119.8 629.8L120.9 629.0L122.0 628.4L120.1 628.6L118.6 627.8L119.2 627.3L120.4 626.8L122.0 625.9L120.5 625.1L122.5 623.6L123.2 623.5L124.9 623.8L127.1 623.6L129.7 622.1L128.5 622.4L127.9 622.1L127.8 621.8L129.7 620.4L131.1 619.7L132.3 619.4L133.6 619.1L133.4 619.9Z"/>
<path d="M125.0 581.6L128.7 580.1L126.3 577.6L132.9 576.2L129.2 574.5L136.2 572.1L139.6 570.7L138.5 574.1L144.0 572.1L147.6 571.7L147.1 573.7L152.3 571.7L156.3 570.3L159.8 570.9L156.1 573.5L156.2 576.3L148.4 579.7L141.6 581.6L132.9 583.3L129.0 581.4Z"/>
<path d="M163.9 703.9L165.1 703.1L167.6 703.4L170.0 703.8L173.1 703.2L175.2 702.6L176.8 702.6L174.8 704.8L173.5 706.6L173.6 708.1L173.6 708.8L172.5 710.9L171.3 710.7L169.4 708.8L168.2 708.7L167.0 707.7L165.4 706.6L163.7 705.8L163.3 705.0Z"/>
<path d="M156.4 687.3L157.4 689.0L157.8 691.0L156.3 694.0L154.0 698.3L152.5 697.8L151.0 699.4L149.4 698.8L150.1 696.5L151.3 694.4L151.2 693.5L151.4 690.8L152.2 688.8L152.8 689.4L154.1 689.0Z"/>
<path d="M160.8 678.4L160.4 679.9L159.6 683.0L157.7 685.5L156.8 686.6L155.9 685.3L156.1 683.9L156.0 682.8L157.4 680.6L158.3 680.2L159.8 680.0Z"/>
<path d="M205.0 716.5L206.7 716.9L208.4 717.7L211.0 717.9L213.3 718.6L215.7 718.1L215.4 719.2L213.1 719.7L208.9 720.1L208.9 719.1L206.8 718.6L205.0 718.5L204.4 718.2Z"/>
<path d="M239.8 719.1L242.7 717.6L244.2 717.8L249.7 716.0L246.6 719.0L247.0 719.9L245.2 720.2L242.4 721.9L240.0 721.0Z"/>
<path d="M303.7 981.1L303.9 983.1L307.2 989.0L308.0 994.2L308.6 997.7L309.6 999.8L308.2 1003.7L306.3 1000.7L306.5 1004.8L305.1 1015.8L302.8 1026.1L282.9 1026.1L281.2 1015.4L282.6 1005.0L290.9 1002.3L297.2 996.2L299.5 989.3L300.8 986.5Z"/>
<path d="M444.0 857.8L447.3 860.8L449.5 865.0L451.7 869.9L452.5 874.9L450.0 878.3L446.6 879.9L445.0 879.3L443.3 874.4L443.0 870.4L442.7 866.7L443.3 862.8L443.6 859.7Z"/>
<path d="M576.8 800.3L578.5 803.1L577.0 807.5L573.5 810.9L569.2 809.2L568.2 805.3L570.7 801.4Z"/>
<path d="M618.4 771.7L620.8 773.4L620.6 778.8L620.0 785.7L619.7 790.4L616.2 786.5L614.7 781.6L615.9 775.5L617.2 772.8Z"/>
<path d="M654.5 665.8L663.6 671.6L668.2 673.3L671.0 671.6L676.1 676.5L672.0 678.5L671.1 683.8L662.6 680.3L661.1 681.9L658.3 680.7L663.5 684.5L661.0 686.5L659.3 684.1L656.5 681.2L655.6 676.7L659.7 677.4L658.5 673.6L653.9 666.4Z"/>
<path d="M663.3 685.9L665.8 686.4L668.7 691.0L673.0 695.5L675.2 702.4L673.1 702.7L676.4 709.5L679.4 716.0L677.4 720.2L675.7 716.5L675.8 719.0L674.2 718.1L673.9 721.8L672.1 719.1L671.3 721.8L668.7 721.4L666.5 721.9L664.4 719.7L666.7 723.6L664.0 728.0L659.5 723.9L659.8 721.8L658.1 721.6L654.0 722.0L648.0 723.1L643.0 725.2L643.9 722.7L645.6 720.2L646.7 717.4L648.9 716.8L652.8 716.8L656.4 715.6L658.8 716.8L659.8 715.7L658.9 714.7L659.9 711.3L660.6 706.4L661.5 710.3L665.0 708.3L666.2 704.3L666.6 699.2L663.3 693.9L663.7 692.7L662.0 687.3L664.7 689.3L665.6 687.8Z"/>
<path d="M657.6 723.6L657.9 728.9L654.7 727.6L654.2 731.7L651.0 729.1L648.8 728.4L650.5 725.7L651.2 724.6L654.9 723.1Z"/>
<path d="M643.1 725.2L646.8 726.8L648.5 728.9L649.1 732.5L649.4 736.1L650.0 738.9L647.9 740.9L645.9 739.4L644.0 735.4L642.8 734.5L641.1 731.6L638.6 728.4L640.1 727.7L641.6 727.1Z"/>
<path d="M623.6 623.1L627.9 626.9L635.1 634.4L643.1 641.5L653.3 650.4L645.6 647.8L652.2 657.0L658.0 663.2L653.9 660.5L653.7 663.9L649.6 658.3L643.2 649.7L635.8 639.6L629.0 633.4L625.2 628.3L622.6 623.6Z"/>
<path d="M622.1 809.2L626.9 809.9L628.9 808.8L631.9 817.3L629.2 824.6L630.2 830.1L636.2 832.7L641.3 834.9L640.9 839.1L642.9 842.2L641.8 841.8L639.4 840.0L635.2 835.2L635.5 839.1L630.6 834.9L628.3 835.8L626.1 834.0L627.2 831.0L625.0 831.8L623.9 829.9L621.0 820.9L622.9 822.9L622.6 819.8L622.0 814.5L622.3 810.9Z"/>
<path d="M651.0 858.0L655.7 867.0L655.8 877.9L653.0 873.2L651.1 878.9L651.9 881.7L646.3 872.7L642.4 869.3L636.6 874.4L640.4 867.0L641.8 864.8L646.1 866.7L647.8 865.3L651.5 862.5Z"/>
<path d="M580.7 901.7L584.2 903.9L588.7 897.0L596.2 895.3L600.4 888.5L604.8 885.1L609.4 879.5L612.7 873.8L618.8 880.3L620.2 885.1L624.3 884.0L618.3 889.4L617.4 894.8L618.7 901.0L623.6 907.8L617.4 916.9L613.9 920.7L611.2 930.5L609.7 936.2L603.4 937.0L597.4 932.8L594.2 931.7L590.4 933.4L588.9 930.0L582.1 924.0L578.8 913.5L577.6 908.4L578.0 904.4Z"/>
<path d="M514.3 881.9L522.9 884.0L527.4 888.0L530.2 891.9L535.6 896.5L540.0 901.3L543.0 903.9L552.1 910.7L556.7 919.2L560.7 926.6L559.3 927.1L564.1 931.7L562.7 944.7L562.2 947.0L560.2 944.7L556.7 947.2L553.9 943.0L546.5 935.1L538.0 918.9L530.6 903.6L526.2 900.4L518.2 890.0L515.6 887.1Z"/>
<path d="M563.3 947.1L567.2 948.1L574.8 951.5L583.2 952.9L585.7 949.8L588.3 951.5L590.8 952.6L593.9 954.3L599.5 957.1L601.1 960.0L601.1 963.1L596.4 961.1L592.3 961.1L586.0 960.0L582.4 958.8L576.6 957.3L575.0 957.1L565.6 953.2L559.7 952.1L562.3 949.8Z"/>
<path d="M641.9 971.3L644.7 966.5L651.9 962.0L660.0 961.1L656.0 964.2L649.9 966.8L645.9 970.1L642.1 972.1Z"/>
<path d="M613.6 1026.1L629.8 1015.0L634.5 1006.1L636.8 1011.1L642.0 1003.8L646.2 997.1L654.9 991.2L659.1 998.3L665.1 997.4L670.0 988.7L673.6 983.9L680.5 976.6L686.0 981.4L696.9 980.8L701.0 982.5L693.3 1026.1Z"/>
<path d="M671.9 978.0L675.1 977.5L676.1 980.3L672.0 980.8Z"/>
<path d="M678.7 563.1L675.2 561.0L674.3 557.6L671.3 555.4L671.4 553.4L672.8 551.7L685.7 553.3L702.0 555.3L725.1 560.5L766.8 576.6L716.0 576.6L702.6 568.8L698.0 568.0Z"/>
<path d="M615.7 550.8L621.3 551.0L626.2 551.7L627.8 553.3L624.2 553.6L620.2 552.9Z"/>
</g>
<g fill="#dedede" stroke="#8a8a8a" stroke-width="0.6" stroke-linejoin="round">
<path d="M276.8 842.9L274.3 840.0L269.3 834.4L260.0 825.4L258.0 817.6L251.5 803.1L251.4 795.4L250.0 788.7L247.1 779.4L244.4 775.5L243.8 773.1L241.7 767.4L240.7 763.8L240.5 761.1L238.1 755.1L235.7 748.4L236.8 746.5L237.2 748.4L238.5 751.4L240.2 755.8L242.5 758.5L243.0 757.6L244.2 754.3L245.1 751.6L246.8 748.8L246.5 750.0L245.1 754.9L244.2 757.0L248.5 760.6L251.1 766.6L254.0 773.1L256.9 778.4L260.7 785.4L260.7 792.6L265.1 800.1L268.4 805.7L274.3 818.1L275.6 829.9L276.6 838.2L277.4 841.9"/>
<path d="M336.3 761.6L330.5 764.9L324.5 764.1L318.5 757.9L313.6 751.9L311.0 746.0L304.4 746.5L301.5 749.8L303.1 754.1L308.1 762.5L309.9 765.5L310.5 770.1L312.3 774.7L312.5 771.2L314.5 767.1L315.9 771.7L316.0 773.6L315.1 775.5L316.5 778.6L320.7 778.3L327.9 776.4L332.1 772.0L334.9 769.0L336.9 765.8"/>
<path d="M199.1 607.9L197.8 609.4L196.2 611.2L195.4 612.6L196.7 613.5L195.6 614.9L193.6 615.1L192.0 616.7L190.3 618.1L188.9 619.9L189.1 621.3L188.9 623.1L191.1 623.6L190.1 625.2L192.9 624.5L194.8 624.1L196.7 622.9L198.6 623.1L200.2 622.0L200.3 623.6L201.2 625.5L206.2 624.1L210.4 622.4L214.2 621.3L216.5 621.3L216.6 623.1L218.8 623.4L221.5 621.8L222.2 620.6L224.4 620.4L227.4 617.2L228.7 613.5L232.3 609.4L236.3 607.9L236.7 611.2L239.5 611.2L241.7 608.1L243.4 605.2L241.0 603.6L242.1 601.4L246.3 600.3L250.4 599.6L256.3 600.3L258.6 598.8L263.6 598.1L261.1 597.0L260.5 594.8L254.9 595.9L248.5 597.2L241.9 598.5L240.5 596.6L239.5 593.9L241.4 591.3L242.4 587.9L245.2 584.5L251.1 581.4L256.6 578.2L259.9 576.6L259.5 573.5L256.7 573.3L252.7 574.3L247.9 577.8L243.2 581.6L237.9 584.1L231.6 587.5L229.0 590.9L226.7 594.8L229.3 596.6L229.9 598.8L227.5 601.0L222.9 603.4L220.7 604.1L217.9 607.9L214.4 612.8L210.8 615.1L207.6 615.8L205.4 617.8L203.3 618.5L201.1 618.7L201.2 617.6L201.3 615.6L201.3 614.4L202.9 613.7L203.4 612.6L202.6 610.3L203.0 608.1L203.1 605.4L203.9 602.7L204.1 601.4L205.3 598.3L202.8 601.0L200.7 602.3L197.7 603.6L195.5 604.7L192.0 606.3L188.8 606.7"/>
<path d="M230.0 681.6L231.6 677.4L235.8 673.3L239.9 669.1L244.1 665.0L248.3 661.6L250.8 660.3L253.3 662.5L255.7 663.3L253.6 665.0L252.9 668.3L254.1 670.5L257.4 672.0L261.6 670.0L265.2 667.5L264.1 665.0L260.7 664.6L262.4 662.5L266.6 660.0L271.6 657.5L275.7 656.3L276.9 658.0L274.1 660.8L270.7 664.1L268.2 666.6L269.9 670.0L273.2 673.3L275.7 677.4L276.6 681.6L275.7 685.8L273.2 688.3L268.2 687.4L262.4 685.8L256.6 684.6L251.6 683.3L247.4 684.9L242.4 685.8L238.3 687.4L234.1 686.6L230.8 684.9Z"/>
<path d="M223.3 688.3L227.5 687.1L232.5 687.4L233.3 689.1L229.1 689.9L225.0 689.9Z"/>
<path d="M380.4 544.3L379.6 550.8L382.6 554.5L383.3 559.6L385.5 562.5L381.8 566.9L378.2 569.1L375.5 569.8L379.6 571.6L384.0 571.3L387.7 566.9L389.6 563.2L394.2 562.8L397.2 565.4L399.3 566.2L396.4 562.5L392.0 559.9L388.4 559.6L385.5 555.9L384.0 551.6L386.2 548.6L388.4 546.8L391.3 550.1L395.0 552.3L394.2 549.4L396.4 544.3Z"/>
<path d="M396.9 544.3L401.5 549.4L405.2 553.0L405.9 555.9L403.7 554.1L400.1 551.1L397.4 549.7L394.2 544.3Z"/>
</g>
<g fill="#dedede">
<path d="M188.7 606.7L199.4 607.6L195.3 609.0L186.6 609.9Z"/>
</g>
<g fill="#fff" stroke="#8a8a8a" stroke-width="0.6" stroke-linejoin="round">
<path d="M190.9 617.6L192.8 617.6L193.4 618.8L192.4 620.1L190.4 620.1L190.2 619.0Z"/>
<path d="M200.2 615.3L200.6 616.0L200.1 617.2L198.9 618.5L196.8 620.4L195.6 620.4L194.6 619.0L195.3 617.2L198.0 616.0Z"/>
<path d="M193.0 620.8L195.8 621.1L195.1 622.2L192.7 622.0Z"/>
<path d="M226.5 607.0L224.3 609.0L221.3 611.2L221.4 609.9L224.0 607.6Z"/>
<path d="M218.3 609.7L215.8 612.1L213.5 614.9L214.9 612.6Z"/>
<path d="M236.3 604.1L239.5 604.3L238.2 605.8L235.3 606.7L235.3 605.4Z"/>
<path d="M238.3 602.3L240.0 602.5L238.9 603.6L237.6 603.2Z"/>
<path d="M205.9 619.0L207.2 619.4L206.4 620.4L205.5 619.9Z"/>
</g>
<g fill="none" stroke="#888888" stroke-width="0.6" stroke-linejoin="round">
<path d="M305.0 653.3L306.6 644.9L315.0 639.9L323.3 635.0L333.3 638.3L343.3 636.6L353.2 639.9L356.6 631.6L358.2 625.0L368.2 623.3L378.2 620.0L389.9 625.0L399.9 623.3L406.5 622.6L411.5 628.3L418.2 635.0L423.2 639.9L433.1 641.6L441.5 643.3L446.5 646.6"/>
<path d="M446.5 646.6L444.8 653.3L439.8 658.3L433.1 666.6L428.1 668.2L429.8 676.6L424.8 681.6"/>
<path d="M424.8 681.6L416.5 683.9L408.2 680.9L398.2 681.6L393.2 685.9L386.5 689.2L389.9 693.2L396.5 692.5L404.8 694.9L411.5 691.5L418.2 688.2L424.8 681.6"/>
<path d="M389.9 693.2L386.5 699.9L389.9 706.5L398.2 709.9L406.5 706.5L411.5 699.9L404.8 694.9"/>
<path d="M386.5 689.2L379.9 696.5L373.2 694.9L368.2 687.2L361.6 679.9L354.9 674.9L346.6 678.2L339.9 666.6L336.6 668.2L336.9 686.9"/>
<path d="M374.9 701.9L378.2 711.5L386.5 703.2L386.5 699.9"/>
<path d="M318.3 699.9L326.6 696.5L334.9 703.2L343.3 706.5L351.6 708.2L358.2 716.5L368.2 714.8L378.2 711.5"/>
<path d="M358.2 716.5L356.6 726.5L354.9 736.5L359.9 744.8L369.9 746.5L379.9 743.1L388.2 736.5L389.9 728.2L394.9 719.8L399.9 713.2L409.8 708.2L406.5 706.5"/>
<path d="M354.9 736.5L358.2 746.5L361.6 756.5L359.9 766.4L363.2 773.1"/>
<path d="M409.8 708.2L414.8 713.2L413.2 721.5L408.2 726.5L409.8 733.2L403.2 739.8L398.2 749.8L393.2 756.5L396.5 764.8L399.9 773.1L401.5 781.4L395.9 786.4"/>
<path d="M409.8 708.2L418.2 713.2L423.2 719.8L428.1 728.2L433.1 738.1L438.1 744.8L446.5 749.8L456.4 754.8L466.4 758.1L476.4 756.5L486.4 754.8L496.4 751.5L506.4 749.8L518.0 751.5"/>
<path d="M438.1 744.8L439.8 751.5L449.8 756.5L459.8 761.5L469.8 763.1L474.8 759.8"/>
<path d="M446.5 646.6L453.1 649.9L459.8 654.9"/>
<path d="M446.5 646.6L451.5 643.3L459.8 642.6"/>
<path d="M305.0 653.3L304.3 651.2L308.6 654.9L312.3 659.9L315.4 664.2L310.5 669.8L311.7 676.0L313.0 679.7L308.6 684.0L304.9 687.1L302.4 686.5"/>
<path d="M313.0 679.7L316.7 684.7L319.8 687.8L320.4 692.1L319.2 697.1L317.9 699.6L321.0 704.6"/>
<path d="M319.8 687.8L323.5 684.7L327.2 682.2L330.3 681.6L332.8 683.4L335.9 687.1L340.9 686.5L342.1 683.4L345.8 679.7L348.3 680.9L352.0 682.2L353.3 686.5L359.5 687.8L362.0 692.1L366.9 697.1L375.0 702.0"/>
<path d="M457.0 643.3L463.7 641.6L472.0 644.9L480.3 643.3L485.3 635.0L492.0 636.0L501.9 641.6L511.9 644.9L521.9 643.3L531.9 646.6L541.9 644.9L551.9 646.6L556.9 643.3"/>
<path d="M553.5 645.9L551.9 653.3L556.9 654.9L566.9 658.3L571.8 659.9L566.9 664.9L558.5 666.6L551.9 668.2L545.2 671.6L543.6 676.6L536.9 679.9L528.6 683.2L521.9 684.9L513.6 681.6L503.6 679.9L492.0 678.2L482.0 674.9L472.0 668.2L465.3 661.6L462.0 654.9L457.0 653.3"/>
<path d="M556.9 643.3L555.2 633.3L560.2 628.3L570.2 628.3L578.5 633.3L586.8 639.9L596.8 644.9L606.8 649.9L616.8 654.9L621.8 658.3L620.1 666.6L616.8 671.6L621.8 674.9L625.1 678.2"/>
<path d="M621.8 675.9L613.5 681.6L605.1 686.6L600.1 691.5L596.8 696.5"/>
<path d="M616.1 699.9L623.4 699.9"/>
<path d="M478.2 758.3L486.6 756.6L489.9 761.6L481.6 763.3L478.2 758.3"/>
<path d="M489.9 756.6L498.2 751.6L506.5 751.6L511.5 758.3L514.8 761.6"/>
<path d="M479.9 788.3L476.6 779.9L474.9 769.9L479.9 766.6L488.2 769.9L493.2 774.9L491.5 781.6L494.9 788.3L496.5 793.2"/>
<path d="M514.8 761.6L509.9 768.3L506.5 776.6L501.5 783.3L498.2 791.6L496.5 796.6"/>
<path d="M514.8 761.6L518.2 766.6L516.5 776.6L521.5 779.9L526.5 786.6L531.5 791.6"/>
<path d="M531.5 791.6L524.8 796.6L521.5 804.9L523.2 813.2L526.5 821.5L528.2 829.9L531.5 839.9L533.2 848.2"/>
<path d="M531.5 791.6L538.1 788.3L543.1 784.9L548.1 789.9L553.1 801.6L559.8 811.6L564.8 819.9L563.1 828.2"/>
<path d="M543.1 784.9L549.8 783.3L556.5 786.6L563.1 789.9L566.4 791.6"/>
<path d="M531.5 791.6L533.2 801.6L536.5 809.9L543.1 813.2L549.8 818.2L551.5 826.5L546.5 833.2L543.1 836.5"/>
<path d="M551.5 826.5L558.1 829.9L564.8 829.9L566.4 836.5L559.8 843.2L553.1 844.8"/>
<path d="M539.8 876.5L544.8 878.1"/>
<path d="M255.9 723.3L264.3 715.0L275.9 711.6L287.6 710.0L294.2 711.6"/>
<path d="M250.9 736.6L259.3 733.3L269.2 728.3L277.6 723.3L282.6 715.0"/>
<path d="M250.9 744.9L259.3 739.9L269.2 736.6L277.6 744.9L289.2 751.6L297.5 751.6L302.5 746.6"/>
<path d="M294.2 711.6L295.9 721.6L292.6 729.9L299.2 738.3L304.2 744.9"/>
<path d="M274.2 818.2L280.9 814.8L292.6 816.5L302.5 813.2L317.5 806.5L320.8 819.2"/>
<path d="M317.5 806.5L330.8 801.5L334.2 789.9L337.5 786.5L342.5 779.9L347.5 774.9"/>
<path d="M330.8 801.5L332.5 789.9L337.5 781.5L340.8 778.2"/>
<path d="M245.9 738.3L249.3 748.3"/>
<path d="M249.9 726.6L249.3 736.6L247.6 746.6"/>
<path d="M212.7 788.9L249.3 788.9"/>
<path d="M249.3 816.5L255.9 823.2L260.9 833.1L267.6 841.5L274.2 846.5"/>
<path d="M104.9 718.3L101.6 726.6L94.9 733.3L86.6 738.3L78.3 743.3L70.0 748.3L61.7 754.9L56.7 759.9"/>
<path d="M56.7 748.3L68.3 743.3L81.6 738.3L91.6 736.6L99.9 726.6"/>
<path d="M146.5 711.6L143.2 721.6L146.5 729.9L149.9 734.9L151.5 741.6L149.9 753.2L153.2 761.6L154.9 768.2"/>
<path d="M154.9 721.6L151.5 729.9L153.2 739.9L151.5 741.6"/>
<path d="M206.5 739.9L207.5 756.6L208.1 768.2"/>
<path d="M158.8 638.8L164.4 643.3L169.9 645.5L174.4 647.7L175.5 651.0L172.1 655.5L169.9 659.9L165.5 662.1L163.3 665.5L165.5 668.8L163.3 673.2L164.4 677.7L161.0 681.0"/>
<path d="M167.7 636.6L169.9 641.0L173.3 644.4L174.4 647.7"/>
<path d="M159.9 637.7L167.7 639.9"/>
<path d="M197.7 625.5L198.8 633.3L199.9 641.0L198.8 644.4L193.2 646.6L189.9 649.9L194.3 653.3L197.7 655.5"/>
<path d="M169.9 659.9L177.7 658.8L184.3 659.9L191.0 658.1L197.7 655.5"/>
<path d="M213.2 622.2L221.0 623.3L223.2 631.1L224.3 638.8L221.0 644.4L222.1 647.7"/>
<path d="M198.8 644.4L205.4 645.5L211.0 647.7L217.6 647.7L222.1 647.7L224.3 651.0"/>
<path d="M197.7 655.5L203.2 653.3L207.6 652.1L211.0 647.7"/>
<path d="M207.6 652.1L207.6 655.5L213.2 654.4L219.8 652.1L224.3 651.0"/>
<path d="M165.5 668.8L171.0 667.7L175.5 665.5L177.7 664.3L184.3 663.2L191.0 664.3L196.5 664.3"/>
<path d="M197.7 655.5L201.0 658.8L198.8 663.2L196.5 664.3L202.1 667.7L208.8 666.6L214.3 664.3L218.7 659.9L224.3 655.5L224.3 651.0"/>
<path d="M224.3 651.0L230.9 652.1L237.6 651.0L240.9 654.4L242.0 661.0L244.3 665.5"/>
<path d="M214.3 664.3L212.1 669.9L214.3 675.4L219.8 676.5L226.5 677.7L234.3 676.5L239.8 673.2L243.1 668.8"/>
<path d="M214.3 675.4L213.2 681.0L216.5 685.4L223.2 686.5L230.9 685.4L237.6 683.2L240.9 679.9"/>
<path d="M223.2 631.1L230.9 632.2L239.8 631.1L247.6 633.3L253.1 631.1L258.7 633.3L264.2 637.7L272.0 636.6"/>
<path d="M240.9 654.4L245.4 655.5L247.6 661.0L244.3 665.5"/>
<path d="M221.0 623.3L224.3 621.1L229.8 618.9L235.4 615.5L240.9 616.6L244.3 622.2L249.8 625.5L247.6 633.3"/>
<path d="M215.4 615.5L224.3 616.6L229.8 618.9"/>
<path d="M221.0 610.0L228.7 611.1L234.3 610.0"/>
<path d="M235.4 605.5L234.3 610.0L235.4 615.5"/>
<path d="M255.8 812.3L250.2 817.9L246.9 825.7L245.8 833.5L241.3 840.2L236.8 846.9L234.6 854.7L230.1 865.9L229.0 868.1"/>
<path d="M245.8 833.5L253.6 830.2L261.4 833.5L267.0 839.1L272.5 844.7"/>
<path d="M272.5 844.7L270.3 849.2L274.8 851.4"/>
<path d="M274.8 854.7L280.4 861.4L288.2 864.8L297.1 868.1L291.5 875.9L284.8 882.6L277.0 887.1L269.2 890.4"/>
<path d="M269.2 890.4L262.5 889.3L258.0 892.7L250.2 891.6L243.5 888.2L241.3 887.1"/>
<path d="M229.0 868.1L232.4 873.7L236.8 879.3L239.1 884.9L241.3 887.1"/>
<path d="M208.3 857.0L213.4 854.7L219.0 858.1L223.4 854.7L226.8 850.3L229.0 844.7L231.2 852.5L233.5 857.0L234.6 854.7"/>
<path d="M241.3 887.1L233.5 889.3L226.8 892.7L220.1 891.6L213.4 889.3L208.3 886.0"/>
<path d="M269.2 890.4L265.8 897.1L264.7 906.1L264.7 917.2L267.0 922.8"/>
<path d="M233.5 889.3L235.7 897.1L236.8 903.8L233.5 910.5L232.4 918.3"/>
<path d="M232.4 918.3L242.4 925.0L251.3 932.9L256.9 938.4"/>
<path d="M232.4 918.3L222.3 919.5L215.6 919.9"/>
<path d="M220.1 891.6L217.9 899.4L214.5 908.3L213.4 915.0L215.6 919.9L211.2 923.9L212.3 935.1L214.5 946.2L219.0 955.2L226.8 961.9L231.2 967.5"/>
<path d="M235.7 978.6L244.6 979.7L254.7 977.5L261.4 973.0"/>
<path d="M231.2 967.5L233.5 975.3L235.7 982.0L239.1 990.9L241.3 999.8L242.4 1007.6"/>
<path d="M231.2 967.5L224.6 968.6L217.9 966.3L211.2 961.9L208.3 960.8"/>
<path d="M235.7 978.6L233.5 986.4L236.8 995.4L233.5 1002.1L226.8 1004.3L220.1 999.8L213.4 997.6L208.3 999.8"/>
<path d="M204.1 599.1L205.8 594.9L209.1 589.9L214.1 585.8L219.9 581.6L225.7 576.6L232.4 572.5L239.1 568.3L245.7 564.1L252.4 560.8L258.2 559.1"/>
<path d="M255.7 574.1L256.5 570.0L257.4 565.0L258.2 559.1L263.2 560.8L268.2 558.3L273.2 557.5L276.5 555.0"/>
<path d="M276.5 555.0L274.8 560.0L273.2 566.6L274.0 573.3L271.5 579.9L268.2 586.6L264.9 592.4L261.5 596.9"/>
<path d="M92.8 681.4L95.8 684.6L92.8 691.9L89.2 699.2L87.0 706.5L86.0 711.6"/>
</g>
<path d="M-657.7 1080.7L-669.9 1070.0L-681.2 1059.1L-691.7 1048.2L-701.4 1037.2L-710.1 1026.1L-718.1 1015.0L-725.2 1003.8L-731.4 992.6L-736.8 981.4L-741.4 970.1L-745.1 958.8L-748.0 947.5L-750.1 936.2L-751.4 924.8L-751.8 913.5L-751.4 902.2L-750.1 890.8L-748.0 879.5L-745.1 868.2L-741.4 856.9L-736.8 845.6L-731.4 834.4L-725.2 823.2L-718.1 812.0L-710.1 800.9L-701.4 789.8L-691.7 778.8L-681.2 767.9L-669.9 757.0L-657.7 746.3L-644.6 735.6L-630.6 724.9L-615.7 714.4L-599.9 704.0L-583.3 693.7L-565.6 683.5L-547.1 673.4L-527.6 663.4L-507.1 653.6L-485.6 643.9L-463.1 634.4L-439.5 625.0L-414.9 615.8L-389.1 606.7L-362.1 597.9L-334.0 589.2L-304.5 580.7L-273.6 572.5L-241.4 564.5L-207.5 556.7L-171.9 549.1L-134.4 541.9L-94.7 535.0L-52.6 528.4L-7.5 522.1L41.3 516.3M-573.5 1080.7L-584.7 1070.0L-595.1 1059.1L-604.7 1048.2L-613.5 1037.2L-621.6 1026.1L-628.9 1015.0L-635.4 1003.8L-641.1 992.6L-646.0 981.4L-650.2 970.1L-653.7 958.8L-656.3 947.5L-658.2 936.2L-659.4 924.8L-659.8 913.5L-659.4 902.2L-658.2 890.8L-656.3 879.5L-653.7 868.2L-650.2 856.9L-646.0 845.6L-641.1 834.4L-635.4 823.2L-628.9 812.0L-621.6 800.9L-613.5 789.8L-604.7 778.8L-595.1 767.9L-584.7 757.0L-573.5 746.3L-561.5 735.6L-548.7 724.9L-535.0 714.4L-520.6 704.0L-505.3 693.7L-489.1 683.5L-472.1 673.4L-454.2 663.4L-435.5 653.6L-415.8 643.9L-395.1 634.4L-373.5 625.0L-350.9 615.8L-327.3 606.7L-302.6 597.9L-276.8 589.2L-249.7 580.7L-221.5 572.5L-191.9 564.5L-160.8 556.7L-128.2 549.1L-93.8 541.9L-57.5 535.0L-18.8 528.4L22.5 522.1L67.2 516.3M-489.3 1080.7L-499.5 1070.0L-509.0 1059.1L-517.7 1048.2L-525.7 1037.2L-533.0 1026.1L-539.7 1015.0L-545.6 1003.8L-550.8 992.6L-555.3 981.4L-559.1 970.1L-562.2 958.8L-564.6 947.5L-566.4 936.2L-567.4 924.8L-567.7 913.5L-567.4 902.2L-566.4 890.8L-564.6 879.5L-562.2 868.2L-559.1 856.9L-555.3 845.6L-550.8 834.4L-545.6 823.2L-539.7 812.0L-533.0 800.9L-525.7 789.8L-517.7 778.8L-509.0 767.9L-499.5 757.0L-489.3 746.3L-478.4 735.6L-466.8 724.9L-454.4 714.4L-441.2 704.0L-427.3 693.7L-412.6 683.5L-397.2 673.4L-380.9 663.4L-363.8 653.6L-345.9 643.9L-327.2 634.4L-307.5 625.0L-287.0 615.8L-265.5 606.7L-243.0 597.9L-219.6 589.2L-195.0 580.7L-169.3 572.5L-142.4 564.5L-114.2 556.7L-84.5 549.1L-53.2 541.9L-20.2 535.0L14.9 528.4L52.5 522.1L93.1 516.3M-405.1 1080.7L-414.3 1070.0L-422.8 1059.1L-430.7 1048.2L-437.9 1037.2L-444.5 1026.1L-450.4 1015.0L-455.8 1003.8L-460.4 992.6L-464.5 981.4L-467.9 970.1L-470.7 958.8L-472.9 947.5L-474.5 936.2L-475.4 924.8L-475.7 913.5L-475.4 902.2L-474.5 890.8L-472.9 879.5L-470.7 868.2L-467.9 856.9L-464.5 845.6L-460.4 834.4L-455.8 823.2L-450.4 812.0L-444.5 800.9L-437.9 789.8L-430.7 778.8L-422.8 767.9L-414.3 757.0L-405.1 746.3L-395.3 735.6L-384.8 724.9L-373.7 714.4L-361.9 704.0L-349.3 693.7L-336.1 683.5L-322.2 673.4L-307.6 663.4L-292.2 653.6L-276.1 643.9L-259.2 634.4L-241.5 625.0L-223.0 615.8L-203.7 606.7L-183.5 597.9L-162.4 589.2L-140.3 580.7L-117.1 572.5L-92.9 564.5L-67.5 556.7L-40.8 549.1L-12.7 541.9L17.1 535.0L48.7 528.4L82.5 522.1L119.1 516.3M-321.0 1080.7L-329.1 1070.0L-336.7 1059.1L-343.7 1048.2L-350.1 1037.2L-356.0 1026.1L-361.2 1015.0L-366.0 1003.8L-370.1 992.6L-373.7 981.4L-376.8 970.1L-379.3 958.8L-381.2 947.5L-382.6 936.2L-383.4 924.8L-383.7 913.5L-383.4 902.2L-382.6 890.8L-381.2 879.5L-379.3 868.2L-376.8 856.9L-373.7 845.6L-370.1 834.4L-366.0 823.2L-361.2 812.0L-356.0 800.9L-350.1 789.8L-343.7 778.8L-336.7 767.9L-329.1 757.0L-321.0 746.3L-312.2 735.6L-302.9 724.9L-293.0 714.4L-282.5 704.0L-271.4 693.7L-259.6 683.5L-247.3 673.4L-234.3 663.4L-220.6 653.6L-206.3 643.9L-191.3 634.4L-175.5 625.0L-159.1 615.8L-141.9 606.7L-124.0 597.9L-105.2 589.2L-85.5 580.7L-65.0 572.5L-43.4 564.5L-20.9 556.7L2.9 549.1L27.9 541.9L54.3 535.0L82.4 528.4L112.5 522.1L145.0 516.3M-236.8 1080.7L-243.9 1070.0L-250.6 1059.1L-256.7 1048.2L-262.3 1037.2L-267.4 1026.1L-272.0 1015.0L-276.2 1003.8L-279.8 992.6L-283.0 981.4L-285.6 970.1L-287.8 958.8L-289.5 947.5L-290.7 936.2L-291.5 924.8L-291.7 913.5L-291.5 902.2L-290.7 890.8L-289.5 879.5L-287.8 868.2L-285.6 856.9L-283.0 845.6L-279.8 834.4L-276.2 823.2L-272.0 812.0L-267.4 800.9L-262.3 789.8L-256.7 778.8L-250.6 767.9L-243.9 757.0L-236.8 746.3L-229.2 735.6L-221.0 724.9L-212.3 714.4L-203.1 704.0L-193.4 693.7L-183.1 683.5L-172.3 673.4L-160.9 663.4L-149.0 653.6L-136.4 643.9L-123.3 634.4L-109.6 625.0L-95.2 615.8L-80.1 606.7L-64.4 597.9L-48.0 589.2L-30.8 580.7L-12.8 572.5L6.0 564.5L25.8 556.7L46.6 549.1L68.4 541.9L91.6 535.0L116.2 528.4L142.5 522.1L170.9 516.3M-152.6 1080.7L-158.7 1070.0L-164.4 1059.1L-169.7 1048.2L-174.5 1037.2L-178.9 1026.1L-182.8 1015.0L-186.4 1003.8L-189.5 992.6L-192.2 981.4L-194.5 970.1L-196.4 958.8L-197.8 947.5L-198.9 936.2L-199.5 924.8L-199.7 913.5L-199.5 902.2L-198.9 890.8L-197.8 879.5L-196.4 868.2L-194.5 856.9L-192.2 845.6L-189.5 834.4L-186.4 823.2L-182.8 812.0L-178.9 800.9L-174.5 789.8L-169.7 778.8L-164.4 767.9L-158.7 757.0L-152.6 746.3L-146.1 735.6L-139.1 724.9L-131.7 714.4L-123.8 704.0L-115.4 693.7L-106.6 683.5L-97.3 673.4L-87.6 663.4L-77.3 653.6L-66.6 643.9L-55.3 634.4L-43.6 625.0L-31.2 615.8L-18.3 606.7L-4.9 597.9L9.2 589.2L24.0 580.7L39.4 572.5L55.5 564.5L72.5 556.7L90.3 549.1L109.0 541.9L128.8 535.0L149.9 528.4L172.5 522.1L196.8 516.3M-68.5 1080.7L-73.5 1070.0L-78.3 1059.1L-82.6 1048.2L-86.7 1037.2L-90.3 1026.1L-93.6 1015.0L-96.6 1003.8L-99.2 992.6L-101.4 981.4L-103.3 970.1L-104.9 958.8L-106.1 947.5L-107.0 936.2L-107.5 924.8L-107.7 913.5L-107.5 902.2L-107.0 890.8L-106.1 879.5L-104.9 868.2L-103.3 856.9L-101.4 845.6L-99.2 834.4L-96.6 823.2L-93.6 812.0L-90.3 800.9L-86.7 789.8L-82.6 778.8L-78.3 767.9L-73.5 757.0L-68.5 746.3L-63.0 735.6L-57.2 724.9L-51.0 714.4L-44.4 704.0L-37.5 693.7L-30.1 683.5L-22.4 673.4L-14.3 663.4L-5.7 653.6L3.2 643.9L12.6 634.4L22.4 625.0L32.7 615.8L43.4 606.7L54.7 597.9L66.4 589.2L78.7 580.7L91.5 572.5L105.0 564.5L119.1 556.7L133.9 549.1L149.6 541.9L166.1 535.0L183.7 528.4L202.4 522.1L222.8 516.3M15.7 1080.7L11.6 1070.0L7.9 1059.1L4.4 1048.2L1.1 1037.2L-1.8 1026.1L-4.4 1015.0L-6.8 1003.8L-8.9 992.6L-10.7 981.4L-12.2 970.1L-13.4 958.8L-14.4 947.5L-15.1 936.2L-15.5 924.8L-15.7 913.5L-15.5 902.2L-15.1 890.8L-14.4 879.5L-13.4 868.2L-12.2 856.9L-10.7 845.6L-8.9 834.4L-6.8 823.2L-4.4 812.0L-1.8 800.9L1.1 789.8L4.4 778.8L7.9 767.9L11.6 757.0L15.7 746.3L20.1 735.6L24.7 724.9L29.7 714.4L35.0 704.0L40.5 693.7L46.4 683.5L52.6 673.4L59.1 663.4L65.9 653.6L73.1 643.9L80.6 634.4L88.4 625.0L96.6 615.8L105.2 606.7L114.2 597.9L123.6 589.2L133.4 580.7L143.7 572.5L154.5 564.5L165.8 556.7L177.6 549.1L190.1 541.9L203.4 535.0L217.4 528.4L232.4 522.1L248.7 516.3M99.9 1080.7L96.8 1070.0L94.0 1059.1L91.4 1048.2L89.0 1037.2L86.8 1026.1L84.8 1015.0L83.0 1003.8L81.5 992.6L80.1 981.4L79.0 970.1L78.0 958.8L77.3 947.5L76.8 936.2L76.5 924.8L76.4 913.5L76.5 902.2L76.8 890.8L77.3 879.5L78.0 868.2L79.0 856.9L80.1 845.6L81.5 834.4L83.0 823.2L84.8 812.0L86.8 800.9L89.0 789.8L91.4 778.8L94.0 767.9L96.8 757.0L99.9 746.3L103.2 735.6L106.7 724.9L110.4 714.4L114.3 704.0L118.5 693.7L122.9 683.5L127.5 673.4L132.4 663.4L137.5 653.6L142.9 643.9L148.5 634.4L154.4 625.0L160.6 615.8L167.0 606.7L173.8 597.9L180.8 589.2L188.2 580.7L195.9 572.5L204.0 564.5L212.4 556.7L221.3 549.1L230.7 541.9L240.6 535.0L251.2 528.4L262.4 522.1L274.6 516.3M184.1 1080.7L182.0 1070.0L180.1 1059.1L178.4 1048.2L176.8 1037.2L175.3 1026.1L174.0 1015.0L172.8 1003.8L171.8 992.6L170.9 981.4L170.1 970.1L169.5 958.8L169.0 947.5L168.6 936.2L168.4 924.8L168.4 913.5L168.4 902.2L168.6 890.8L169.0 879.5L169.5 868.2L170.1 856.9L170.9 845.6L171.8 834.4L172.8 823.2L174.0 812.0L175.3 800.9L176.8 789.8L178.4 778.8L180.1 767.9L182.0 757.0L184.1 746.3L186.2 735.6L188.6 724.9L191.0 714.4L193.7 704.0L196.5 693.7L199.4 683.5L202.5 673.4L205.7 663.4L209.2 653.6L212.7 643.9L216.5 634.4L220.4 625.0L224.5 615.8L228.8 606.7L233.3 597.9L238.0 589.2L242.9 580.7L248.1 572.5L253.4 564.5L259.1 556.7L265.0 549.1L271.3 541.9L277.9 535.0L284.9 528.4L292.4 522.1L300.5 516.3M268.2 1080.7L267.2 1070.0L266.3 1059.1L265.4 1048.2L264.6 1037.2L263.9 1026.1L263.2 1015.0L262.6 1003.8L262.1 992.6L261.6 981.4L261.3 970.1L260.9 958.8L260.7 947.5L260.5 936.2L260.4 924.8L260.4 913.5L260.4 902.2L260.5 890.8L260.7 879.5L260.9 868.2L261.3 856.9L261.6 845.6L262.1 834.4L262.6 823.2L263.2 812.0L263.9 800.9L264.6 789.8L265.4 778.8L266.3 767.9L267.2 757.0L268.2 746.3L269.3 735.6L270.5 724.9L271.7 714.4L273.0 704.0L274.4 693.7L275.9 683.5L277.4 673.4L279.1 663.4L280.8 653.6L282.6 643.9L284.4 634.4L286.4 625.0L288.5 615.8L290.6 606.7L292.9 597.9L295.2 589.2L297.7 580.7L300.2 572.5L302.9 564.5L305.7 556.7L308.7 549.1L311.8 541.9L315.1 535.0L318.7 528.4L322.4 522.1L326.5 516.3M352.4 1080.7L352.4 1070.0L352.4 1059.1L352.4 1048.2L352.4 1037.2L352.4 1026.1L352.4 1015.0L352.4 1003.8L352.4 992.6L352.4 981.4L352.4 970.1L352.4 958.8L352.4 947.5L352.4 936.2L352.4 924.8L352.4 913.5L352.4 902.2L352.4 890.8L352.4 879.5L352.4 868.2L352.4 856.9L352.4 845.6L352.4 834.4L352.4 823.2L352.4 812.0L352.4 800.9L352.4 789.8L352.4 778.8L352.4 767.9L352.4 757.0L352.4 746.3L352.4 735.6L352.4 724.9L352.4 714.4L352.4 704.0L352.4 693.7L352.4 683.5L352.4 673.4L352.4 663.4L352.4 653.6L352.4 643.9L352.4 634.4L352.4 625.0L352.4 615.8L352.4 606.7L352.4 597.9L352.4 589.2L352.4 580.7L352.4 572.5L352.4 564.5L352.4 556.7L352.4 549.1L352.4 541.9L352.4 535.0L352.4 528.4L352.4 522.1L352.4 516.3M436.6 1080.7L437.6 1070.0L438.5 1059.1L439.4 1048.2L440.2 1037.2L440.9 1026.1L441.6 1015.0L442.2 1003.8L442.7 992.6L443.2 981.4L443.5 970.1L443.9 958.8L444.1 947.5L444.3 936.2L444.4 924.8L444.4 913.5L444.4 902.2L444.3 890.8L444.1 879.5L443.9 868.2L443.5 856.9L443.2 845.6L442.7 834.4L442.2 823.2L441.6 812.0L440.9 800.9L440.2 789.8L439.4 778.8L438.5 767.9L437.6 757.0L436.6 746.3L435.5 735.6L434.3 724.9L433.1 714.4L431.8 704.0L430.4 693.7L428.9 683.5L427.4 673.4L425.7 663.4L424.0 653.6L422.2 643.9L420.4 634.4L418.4 625.0L416.3 615.8L414.2 606.7L411.9 597.9L409.6 589.2L407.1 580.7L404.6 572.5L401.9 564.5L399.1 556.7L396.1 549.1L393.0 541.9L389.7 535.0L386.1 528.4L382.4 522.1L378.3 516.3M520.7 1080.7L522.8 1070.0L524.7 1059.1L526.4 1048.2L528.0 1037.2L529.5 1026.1L530.8 1015.0L532.0 1003.8L533.0 992.6L533.9 981.4L534.7 970.1L535.3 958.8L535.8 947.5L536.2 936.2L536.4 924.8L536.4 913.5L536.4 902.2L536.2 890.8L535.8 879.5L535.3 868.2L534.7 856.9L533.9 845.6L533.0 834.4L532.0 823.2L530.8 812.0L529.5 800.9L528.0 789.8L526.4 778.8L524.7 767.9L522.8 757.0L520.7 746.3L518.6 735.6L516.2 724.9L513.8 714.4L511.1 704.0L508.3 693.7L505.4 683.5L502.3 673.4L499.1 663.4L495.6 653.6L492.1 643.9L488.3 634.4L484.4 625.0L480.3 615.8L476.0 606.7L471.5 597.9L466.8 589.2L461.9 580.7L456.7 572.5L451.4 564.5L445.7 556.7L439.8 549.1L433.5 541.9L426.9 535.0L419.9 528.4L412.4 522.1L404.3 516.3M604.9 1080.7L608.0 1070.0L610.8 1059.1L613.4 1048.2L615.8 1037.2L618.0 1026.1L620.0 1015.0L621.8 1003.8L623.3 992.6L624.7 981.4L625.8 970.1L626.8 958.8L627.5 947.5L628.0 936.2L628.3 924.8L628.4 913.5L628.3 902.2L628.0 890.8L627.5 879.5L626.8 868.2L625.8 856.9L624.7 845.6L623.3 834.4L621.8 823.2L620.0 812.0L618.0 800.9L615.8 789.8L613.4 778.8L610.8 767.9L608.0 757.0L604.9 746.3L601.6 735.6L598.1 724.9L594.4 714.4L590.5 704.0L586.3 693.7L581.9 683.5L577.3 673.4L572.4 663.4L567.3 653.6L561.9 643.9L556.3 634.4L550.4 625.0L544.2 615.8L537.8 606.7L531.0 597.9L524.0 589.2L516.6 580.7L508.9 572.5L500.8 564.5L492.4 556.7L483.5 549.1L474.1 541.9L464.2 535.0L453.6 528.4L442.4 522.1L430.2 516.3M689.1 1080.7L693.2 1070.0L696.9 1059.1L700.4 1048.2L703.7 1037.2L706.6 1026.1L709.2 1015.0L711.6 1003.8L713.7 992.6L715.5 981.4L717.0 970.1L718.2 958.8L719.2 947.5L719.9 936.2L720.3 924.8L720.5 913.5L720.3 902.2L719.9 890.8L719.2 879.5L718.2 868.2L717.0 856.9L715.5 845.6L713.7 834.4L711.6 823.2L709.2 812.0L706.6 800.9L703.7 789.8L700.4 778.8L696.9 767.9L693.2 757.0L689.1 746.3L684.7 735.6L680.1 724.9L675.1 714.4L669.8 704.0L664.3 693.7L658.4 683.5L652.2 673.4L645.7 663.4L638.9 653.6L631.7 643.9L624.2 634.4L616.4 625.0L608.2 615.8L599.6 606.7L590.6 597.9L581.2 589.2L571.4 580.7L561.1 572.5L550.3 564.5L539.0 556.7L527.2 549.1L514.7 541.9L501.4 535.0L487.4 528.4L472.4 522.1L456.1 516.3M773.3 1080.7L778.3 1070.0L783.1 1059.1L787.4 1048.2L791.5 1037.2L795.1 1026.1L798.4 1015.0L801.4 1003.8L804.0 992.6L806.2 981.4L808.1 970.1L809.7 958.8L810.9 947.5L811.8 936.2L812.3 924.8L812.5 913.5L812.3 902.2L811.8 890.8L810.9 879.5L809.7 868.2L808.1 856.9L806.2 845.6L804.0 834.4L801.4 823.2L798.4 812.0L795.1 800.9L791.5 789.8L787.4 778.8L783.1 767.9L778.3 757.0L773.3 746.3L767.8 735.6L762.0 724.9L755.8 714.4L749.2 704.0L742.3 693.7L734.9 683.5L727.2 673.4L719.1 663.4L710.5 653.6L701.6 643.9L692.2 634.4L682.4 625.0L672.1 615.8L661.4 606.7L650.1 597.9L638.4 589.2L626.1 580.7L613.3 572.5L599.8 564.5L585.7 556.7L570.9 549.1L555.2 541.9L538.7 535.0L521.1 528.4L502.4 522.1L482.0 516.3M857.4 1080.7L863.5 1070.0L869.2 1059.1L874.5 1048.2L879.3 1037.2L883.7 1026.1L887.6 1015.0L891.2 1003.8L894.3 992.6L897.0 981.4L899.3 970.1L901.2 958.8L902.6 947.5L903.7 936.2L904.3 924.8L904.5 913.5L904.3 902.2L903.7 890.8L902.6 879.5L901.2 868.2L899.3 856.9L897.0 845.6L894.3 834.4L891.2 823.2L887.6 812.0L883.7 800.9L879.3 789.8L874.5 778.8L869.2 767.9L863.5 757.0L857.4 746.3L850.9 735.6L843.9 724.9L836.5 714.4L828.6 704.0L820.2 693.7L811.4 683.5L802.1 673.4L792.4 663.4L782.1 653.6L771.4 643.9L760.1 634.4L748.4 625.0L736.0 615.8L723.1 606.7L709.7 597.9L695.6 589.2L680.8 580.7L665.4 572.5L649.3 564.5L632.3 556.7L614.5 549.1L595.8 541.9L576.0 535.0L554.9 528.4L532.3 522.1L508.0 516.3M941.6 1080.7L948.7 1070.0L955.4 1059.1L961.5 1048.2L967.1 1037.2L972.2 1026.1L976.8 1015.0L981.0 1003.8L984.6 992.6L987.8 981.4L990.4 970.1L992.6 958.8L994.3 947.5L995.5 936.2L996.3 924.8L996.5 913.5L996.3 902.2L995.5 890.8L994.3 879.5L992.6 868.2L990.4 856.9L987.8 845.6L984.6 834.4L981.0 823.2L976.8 812.0L972.2 800.9L967.1 789.8L961.5 778.8L955.4 767.9L948.7 757.0L941.6 746.3L934.0 735.6L925.8 724.9L917.1 714.4L907.9 704.0L898.2 693.7L887.9 683.5L877.1 673.4L865.7 663.4L853.8 653.6L841.2 643.9L828.1 634.4L814.4 625.0L800.0 615.8L784.9 606.7L769.2 597.9L752.8 589.2L735.6 580.7L717.6 572.5L698.8 564.5L679.0 556.7L658.2 549.1L636.4 541.9L613.2 535.0L588.6 528.4L562.3 522.1L533.9 516.3M1025.8 1080.7L1033.9 1070.0L1041.5 1059.1L1048.5 1048.2L1054.9 1037.2L1060.8 1026.1L1066.0 1015.0L1070.8 1003.8L1074.9 992.6L1078.5 981.4L1081.6 970.1L1084.1 958.8L1086.0 947.5L1087.4 936.2L1088.2 924.8L1088.5 913.5L1088.2 902.2L1087.4 890.8L1086.0 879.5L1084.1 868.2L1081.6 856.9L1078.5 845.6L1074.9 834.4L1070.8 823.2L1066.0 812.0L1060.8 800.9L1054.9 789.8L1048.5 778.8L1041.5 767.9L1033.9 757.0L1025.8 746.3L1017.0 735.6L1007.7 724.9L997.8 714.4L987.3 704.0L976.2 693.7L964.4 683.5L952.1 673.4L939.1 663.4L925.4 653.6L911.1 643.9L896.1 634.4L880.3 625.0L863.9 615.8L846.7 606.7L828.8 597.9L810.0 589.2L790.3 580.7L769.8 572.5L748.2 564.5L725.7 556.7L701.9 549.1L676.9 541.9L650.5 535.0L622.4 528.4L592.3 522.1L559.8 516.3M1109.9 1080.7L1119.1 1070.0L1127.6 1059.1L1135.5 1048.2L1142.7 1037.2L1149.3 1026.1L1155.2 1015.0L1160.6 1003.8L1165.2 992.6L1169.3 981.4L1172.7 970.1L1175.5 958.8L1177.7 947.5L1179.3 936.2L1180.2 924.8L1180.5 913.5L1180.2 902.2L1179.3 890.8L1177.7 879.5L1175.5 868.2L1172.7 856.9L1169.3 845.6L1165.2 834.4L1160.6 823.2L1155.2 812.0L1149.3 800.9L1142.7 789.8L1135.5 778.8L1127.6 767.9L1119.1 757.0L1109.9 746.3L1100.1 735.6L1089.6 724.9L1078.5 714.4L1066.7 704.0L1054.1 693.7L1040.9 683.5L1027.0 673.4L1012.4 663.4L997.0 653.6L980.9 643.9L964.0 634.4L946.3 625.0L927.8 615.8L908.5 606.7L888.3 597.9L867.2 589.2L845.1 580.7L821.9 572.5L797.7 564.5L772.3 556.7L745.6 549.1L717.5 541.9L687.7 535.0L656.1 528.4L622.3 522.1L585.7 516.3M1194.1 1080.7L1204.3 1070.0L1213.8 1059.1L1222.5 1048.2L1230.5 1037.2L1237.8 1026.1L1244.5 1015.0L1250.4 1003.8L1255.6 992.6L1260.1 981.4L1263.9 970.1L1267.0 958.8L1269.4 947.5L1271.2 936.2L1272.2 924.8L1272.5 913.5L1272.2 902.2L1271.2 890.8L1269.4 879.5L1267.0 868.2L1263.9 856.9L1260.1 845.6L1255.6 834.4L1250.4 823.2L1244.5 812.0L1237.8 800.9L1230.5 789.8L1222.5 778.8L1213.8 767.9L1204.3 757.0L1194.1 746.3L1183.2 735.6L1171.6 724.9L1159.2 714.4L1146.0 704.0L1132.1 693.7L1117.4 683.5L1102.0 673.4L1085.7 663.4L1068.6 653.6L1050.7 643.9L1032.0 634.4L1012.3 625.0L991.8 615.8L970.3 606.7L947.8 597.9L924.4 589.2L899.8 580.7L874.1 572.5L847.2 564.5L819.0 556.7L789.3 549.1L758.0 541.9L725.0 535.0L689.9 528.4L652.3 522.1L611.7 516.3M1278.3 1080.7L1289.5 1070.0L1299.9 1059.1L1309.5 1048.2L1318.3 1037.2L1326.4 1026.1L1333.7 1015.0L1340.2 1003.8L1345.9 992.6L1350.8 981.4L1355.0 970.1L1358.5 958.8L1361.1 947.5L1363.0 936.2L1364.2 924.8L1364.6 913.5L1364.2 902.2L1363.0 890.8L1361.1 879.5L1358.5 868.2L1355.0 856.9L1350.8 845.6L1345.9 834.4L1340.2 823.2L1333.7 812.0L1326.4 800.9L1318.3 789.8L1309.5 778.8L1299.9 767.9L1289.5 757.0L1278.3 746.3L1266.3 735.6L1253.5 724.9L1239.8 714.4L1225.4 704.0L1210.1 693.7L1193.9 683.5L1176.9 673.4L1159.0 663.4L1140.3 653.6L1120.6 643.9L1099.9 634.4L1078.3 625.0L1055.7 615.8L1032.1 606.7L1007.4 597.9L981.6 589.2L954.5 580.7L926.3 572.5L896.7 564.5L865.6 556.7L833.0 549.1L798.6 541.9L762.3 535.0L723.6 528.4L682.3 522.1L637.6 516.3M1362.5 1080.7L1374.7 1070.0L1386.0 1059.1L1396.5 1048.2L1406.2 1037.2L1414.9 1026.1L1422.9 1015.0L1430.0 1003.8L1436.2 992.6L1441.6 981.4L1446.2 970.1L1449.9 958.8L1452.8 947.5L1454.9 936.2L1456.2 924.8L1456.6 913.5L1456.2 902.2L1454.9 890.8L1452.8 879.5L1449.9 868.2L1446.2 856.9L1441.6 845.6L1436.2 834.4L1430.0 823.2L1422.9 812.0L1414.9 800.9L1406.2 789.8L1396.5 778.8L1386.0 767.9L1374.7 757.0L1362.5 746.3L1349.4 735.6L1335.4 724.9L1320.5 714.4L1304.7 704.0L1288.1 693.7L1270.4 683.5L1251.9 673.4L1232.4 663.4L1211.9 653.6L1190.4 643.9L1167.9 634.4L1144.3 625.0L1119.7 615.8L1093.9 606.7L1066.9 597.9L1038.8 589.2L1009.3 580.7L978.4 572.5L946.2 564.5L912.3 556.7L876.7 549.1L839.2 541.9L799.5 535.0L757.4 528.4L712.3 522.1L663.5 516.3M55.4 556.7L683.8 556.7M55.4 643.9L683.8 643.9M55.4 746.3L683.8 746.3M55.4 856.9L683.8 856.9M55.4 970.1L683.8 970.1" fill="none" stroke="#9c9c9c" stroke-width="0.45"/>
<circle cx="140.6" cy="573.7" r="4.1" fill="#ffcccc" stroke="#d49a9a" stroke-width="0.5"/>
<circle cx="282.3" cy="553.7" r="4.1" fill="#ffcccc" stroke="#d49a9a" stroke-width="0.5"/>
<circle cx="259.4" cy="580.7" r="4.1" fill="#ffcccc" stroke="#d49a9a" stroke-width="0.5"/>
<circle cx="280.6" cy="618.1" r="4.1" fill="#ffcccc" stroke="#d49a9a" stroke-width="0.5"/>
<circle cx="200.0" cy="616.9" r="4.1" fill="#ffcccc" stroke="#d49a9a" stroke-width="0.5"/>
<circle cx="226.7" cy="664.1" r="4.1" fill="#ffcccc" stroke="#d49a9a" stroke-width="0.5"/>
<circle cx="146.4" cy="637.8" r="4.1" fill="#ffcccc" stroke="#d49a9a" stroke-width="0.5"/>
<circle cx="171.2" cy="664.8" r="4.1" fill="#ffcccc" stroke="#d49a9a" stroke-width="0.5"/>
<circle cx="209.9" cy="644.2" r="4.1" fill="#ffcccc" stroke="#d49a9a" stroke-width="0.5"/>
<circle cx="92.5" cy="682.4" r="4.1" fill="#ffcccc" stroke="#d49a9a" stroke-width="0.5"/>
<circle cx="98.7" cy="690.7" r="4.1" fill="#ffcccc" stroke="#d49a9a" stroke-width="0.5"/>
<circle cx="105.5" cy="688.5" r="4.1" fill="#ffcccc" stroke="#d49a9a" stroke-width="0.5"/>
<circle cx="102.7" cy="693.2" r="4.1" fill="#ffcccc" stroke="#d49a9a" stroke-width="0.5"/>
<circle cx="114.0" cy="690.1" r="4.1" fill="#ffcccc" stroke="#d49a9a" stroke-width="0.5"/>
<circle cx="131.8" cy="681.1" r="4.1" fill="#ffcccc" stroke="#d49a9a" stroke-width="0.5"/>
<polygon points="131.8,676.5 136.4,681.1 131.8,685.7 127.2,681.1" fill="#ffcccc" stroke="#d49a9a" stroke-width="0.5"/>
<rect x="209.9" y="642.3" width="8.0" height="8.0" fill="#ffcccc" stroke="#d49a9a" stroke-width="0.5"/>
<polygon points="160.5,652.9 165.1,657.5 160.5,662.1 155.9,657.5" fill="#ffcccc" stroke="#d49a9a" stroke-width="0.5"/>
<rect x="159.2" y="649.5" width="8.0" height="8.0" fill="#ffcccc" stroke="#d49a9a" stroke-width="0.5"/>
<polygon points="152.8,661.9 157.4,666.5 152.8,671.1 148.2,666.5" fill="#ffcccc" stroke="#d49a9a" stroke-width="0.5"/>
<rect x="179.9" y="666.7" width="8.0" height="8.0" fill="#ffcccc" stroke="#d49a9a" stroke-width="0.5"/>
<rect x="209.8" y="678.3" width="8.0" height="8.0" fill="#ffcccc" stroke="#d49a9a" stroke-width="0.5"/>
<polygon points="183.3,660.6 187.6,663.7 185.9,668.7 180.7,668.7 179.0,663.7" fill="#ffcccc" stroke="#d49a9a" stroke-width="0.5"/><circle cx="183.3" cy="665.1" r="0.9" fill="#000"/>
<circle cx="189.1" cy="670.9" r="4.1" fill="#c393f8" stroke="#8a5fc4" stroke-width="0.5"/><circle cx="189.1" cy="670.9" r="0.9" fill="#000"/>
<polygon points="193.8,668.3 198.1,671.4 196.4,676.4 191.2,676.4 189.5,671.4" fill="#ffcccc" stroke="#d49a9a" stroke-width="0.5"/><circle cx="193.8" cy="672.8" r="0.9" fill="#000"/>
<polygon points="189.9,672.9 194.2,676.0 192.5,681.0 187.3,681.0 185.6,676.0" fill="#ffcccc" stroke="#d49a9a" stroke-width="0.5"/><circle cx="189.9" cy="677.4" r="0.9" fill="#000"/>
<polygon points="197.9,675.2 202.2,678.3 200.5,683.3 195.3,683.3 193.6,678.3" fill="#ffcccc" stroke="#d49a9a" stroke-width="0.5"/><circle cx="197.9" cy="679.7" r="0.9" fill="#000"/>
<circle cx="202.1" cy="689.6" r="4.1" fill="#ffcccc" stroke="#d49a9a" stroke-width="0.5"/><circle cx="202.1" cy="689.6" r="0.9" fill="#000"/>
<circle cx="197.4" cy="692.6" r="4.1" fill="#ffcccc" stroke="#d49a9a" stroke-width="0.5"/><circle cx="197.4" cy="692.6" r="0.9" fill="#000"/>
<circle cx="181.8" cy="696.9" r="4.1" fill="#ffcccc" stroke="#d49a9a" stroke-width="0.5"/><circle cx="181.8" cy="696.9" r="0.9" fill="#000"/>
<circle cx="172.2" cy="704.2" r="4.1" fill="#ffcccc" stroke="#d49a9a" stroke-width="0.5"/><circle cx="172.2" cy="704.2" r="0.9" fill="#000"/>
<circle cx="177.7" cy="703.1" r="4.1" fill="#ffcccc" stroke="#d49a9a" stroke-width="0.5"/><circle cx="177.7" cy="703.1" r="0.9" fill="#000"/>
<circle cx="98.2" cy="708.0" r="4.1" fill="#ff6666" stroke="#c24a4a" stroke-width="0.5"/>
<circle cx="84.5" cy="727.2" r="4.1" fill="#ff6666" stroke="#c24a4a" stroke-width="0.5"/>
<circle cx="128.0" cy="712.0" r="4.1" fill="#ff6666" stroke="#c24a4a" stroke-width="0.5"/>
<circle cx="123.1" cy="711.6" r="4.1" fill="#ff6666" stroke="#c24a4a" stroke-width="0.5"/>
<circle cx="117.7" cy="715.0" r="4.1" fill="#ff6666" stroke="#c24a4a" stroke-width="0.5"/>
<circle cx="243.1" cy="690.7" r="4.1" fill="#8b0000" stroke="#5e0000" stroke-width="0.5"/><circle cx="243.1" cy="690.7" r="0.9" fill="#000"/>
<circle cx="221.8" cy="705.4" r="4.1" fill="#8b0000" stroke="#5e0000" stroke-width="0.5"/><circle cx="221.8" cy="705.4" r="0.9" fill="#000"/>
<polygon points="244.6,707.5 248.6,714.4 240.6,714.4" fill="#8b0000" stroke="#5e0000" stroke-width="0.5"/>
<polygon points="258.6,704.1 262.6,711.0 254.6,711.0" fill="#8b0000" stroke="#5e0000" stroke-width="0.5"/>
<polygon points="249.6,728.3 253.6,735.2 245.6,735.2" fill="#8b0000" stroke="#5e0000" stroke-width="0.5"/>
<polygon points="252.0,728.3 256.0,735.2 248.0,735.2" fill="#8b0000" stroke="#5e0000" stroke-width="0.5"/>
<circle cx="277.4" cy="673.0" r="4.1" fill="#c393f8" stroke="#8a5fc4" stroke-width="0.5"/>
<circle cx="281.3" cy="674.1" r="4.1" fill="#c393f8" stroke="#8a5fc4" stroke-width="0.5"/>
<circle cx="281.9" cy="678.0" r="4.1" fill="#c393f8" stroke="#8a5fc4" stroke-width="0.5"/>
<circle cx="286.6" cy="676.6" r="4.1" fill="#c393f8" stroke="#8a5fc4" stroke-width="0.5"/>
<circle cx="289.9" cy="678.6" r="4.1" fill="#c393f8" stroke="#8a5fc4" stroke-width="0.5"/>
<circle cx="296.1" cy="680.0" r="4.1" fill="#c393f8" stroke="#8a5fc4" stroke-width="0.5"/><circle cx="296.1" cy="680.0" r="0.9" fill="#000"/>
<circle cx="300.2" cy="683.0" r="4.1" fill="#c393f8" stroke="#8a5fc4" stroke-width="0.5"/><circle cx="300.2" cy="683.0" r="0.9" fill="#000"/>
<circle cx="279.9" cy="688.6" r="4.1" fill="#c393f8" stroke="#8a5fc4" stroke-width="0.5"/><circle cx="279.9" cy="688.6" r="0.9" fill="#000"/>
<circle cx="276.3" cy="693.3" r="4.1" fill="#c393f8" stroke="#8a5fc4" stroke-width="0.5"/><circle cx="276.3" cy="693.3" r="0.9" fill="#000"/>
<circle cx="284.1" cy="691.6" r="4.1" fill="#c393f8" stroke="#8a5fc4" stroke-width="0.5"/><circle cx="284.1" cy="691.6" r="0.9" fill="#000"/>
<circle cx="292.4" cy="690.3" r="4.1" fill="#c393f8" stroke="#8a5fc4" stroke-width="0.5"/><circle cx="292.4" cy="690.3" r="0.9" fill="#000"/>
<circle cx="291.2" cy="695.3" r="4.1" fill="#c393f8" stroke="#8a5fc4" stroke-width="0.5"/><circle cx="291.2" cy="695.3" r="0.9" fill="#000"/>
<circle cx="289.9" cy="706.3" r="4.1" fill="#c393f8" stroke="#8a5fc4" stroke-width="0.5"/><circle cx="289.9" cy="706.3" r="0.9" fill="#000"/>
<circle cx="297.9" cy="704.6" r="4.1" fill="#c393f8" stroke="#8a5fc4" stroke-width="0.5"/><circle cx="297.9" cy="704.6" r="0.9" fill="#000"/>
<circle cx="306.2" cy="699.9" r="4.1" fill="#c393f8" stroke="#8a5fc4" stroke-width="0.5"/><circle cx="306.2" cy="699.9" r="0.9" fill="#000"/>
<circle cx="317.9" cy="712.9" r="4.1" fill="#c393f8" stroke="#8a5fc4" stroke-width="0.5"/><circle cx="317.9" cy="712.9" r="0.9" fill="#000"/>
<circle cx="332.3" cy="709.9" r="4.1" fill="#c393f8" stroke="#8a5fc4" stroke-width="0.5"/><circle cx="332.3" cy="709.9" r="0.9" fill="#000"/>
<circle cx="402.6" cy="741.4" r="4.1" fill="#c393f8" stroke="#8a5fc4" stroke-width="0.5"/><circle cx="402.6" cy="741.4" r="0.9" fill="#000"/>
<circle cx="424.6" cy="735.9" r="4.1" fill="#c393f8" stroke="#8a5fc4" stroke-width="0.5"/><circle cx="424.6" cy="735.9" r="0.9" fill="#000"/>
<circle cx="446.2" cy="749.4" r="4.1" fill="#c393f8" stroke="#8a5fc4" stroke-width="0.5"/><circle cx="446.2" cy="749.4" r="0.9" fill="#000"/>
<polygon points="280.0,832.8 283.3,834.4 284.1,837.9 281.8,840.8 278.2,840.8 275.9,837.9 276.7,834.4" fill="#c393f8" stroke="#8a5fc4" stroke-width="0.5"/>
<polygon points="268.9,856.7 272.2,858.3 273.0,861.8 270.7,864.7 267.1,864.7 264.8,861.8 265.6,858.3" fill="#c393f8" stroke="#8a5fc4" stroke-width="0.5"/>
<polygon points="257.6,865.0 260.9,866.6 261.7,870.1 259.4,873.0 255.8,873.0 253.5,870.1 254.3,866.6" fill="#c393f8" stroke="#8a5fc4" stroke-width="0.5"/>
<polygon points="248.6,909.4 251.9,911.0 252.7,914.5 250.4,917.4 246.8,917.4 244.5,914.5 245.3,911.0" fill="#c393f8" stroke="#8a5fc4" stroke-width="0.5"/>
<circle cx="416.6" cy="677.3" r="4.1" fill="#6600cc" stroke="#4b0a96" stroke-width="0.5"/>
<circle cx="506.7" cy="735.4" r="4.1" fill="#6600cc" stroke="#4b0a96" stroke-width="0.5"/>
<circle cx="541.0" cy="716.9" r="4.1" fill="#6600cc" stroke="#4b0a96" stroke-width="0.5"/>
<circle cx="571.1" cy="740.1" r="4.1" fill="#6600cc" stroke="#4b0a96" stroke-width="0.5"/>
<circle cx="521.6" cy="756.0" r="4.1" fill="#6600cc" stroke="#4b0a96" stroke-width="0.5"/>
<circle cx="525.0" cy="769.5" r="4.1" fill="#6600cc" stroke="#4b0a96" stroke-width="0.5"/>
<circle cx="628.5" cy="679.0" r="4.1" fill="#6600cc" stroke="#4b0a96" stroke-width="0.5"/>
<circle cx="618.6" cy="704.2" r="4.1" fill="#6600cc" stroke="#4b0a96" stroke-width="0.5"/>
<circle cx="660.5" cy="712.6" r="4.1" fill="#6600cc" stroke="#4b0a96" stroke-width="0.5"/>
<circle cx="672.8" cy="704.2" r="4.1" fill="#6600cc" stroke="#4b0a96" stroke-width="0.5"/>
<rect x="55.4" y="768.7" width="152.4" height="246.1" fill="#fff" stroke="#000" stroke-width="1.5"/>
<text x="58" y="780.6" font-size="11.4" font-weight="bold" fill="#000">Haplogroups</text>
<rect x="64.5" y="788.2" width="11.8" height="11.8" fill="#c79bfa"/>
<text x="83.7" y="797.3" font-size="8.7" font-style="italic" fill="#000">A</text>
<rect x="64.5" y="806.0" width="11.8" height="11.8" fill="#6600cc"/>
<text x="83.7" y="815.1" font-size="8.7" font-style="italic" fill="#000">C</text>
<rect x="64.5" y="823.7" width="11.8" height="11.8" fill="#ffcccc"/>
<text x="83.7" y="832.8" font-size="8.7" font-style="italic" fill="#000">E</text>
<rect x="64.5" y="841.5" width="11.8" height="11.8" fill="#ff6666"/>
<text x="83.7" y="850.6" font-size="8.7" font-style="italic" fill="#000">F</text>
<rect x="64.5" y="859.2" width="11.8" height="11.8" fill="#8b0000"/>
<text x="83.7" y="868.3" font-size="8.7" font-style="italic" fill="#000">L</text>
<text x="58" y="886.9" font-size="11.4" font-weight="bold" fill="#000">Species</text>
<circle cx="70.4" cy="900.7" r="4.2" stroke="#6e6e6e" stroke-width="0.5" fill="#fff"/>
<circle cx="70.4" cy="918.6" r="4.2" stroke="#6e6e6e" stroke-width="0.5" fill="#fff"/><circle cx="70.4" cy="918.6" r="0.9" fill="#000"/>
<polygon points="70.4,931.6 75.2,936.4 70.4,941.2 65.6,936.4" stroke="#6e6e6e" stroke-width="0.5" fill="#fff"/>
<polygon points="70.4,949.8 74.7,952.9 73.0,957.9 67.8,957.9 66.1,952.9" stroke="#6e6e6e" stroke-width="0.5" fill="#fff"/><circle cx="70.4" cy="954.3" r="0.9" fill="#000"/>
<rect x="66.7" y="968.6" width="7.4" height="7.4" stroke="#6e6e6e" stroke-width="0.5" fill="#fff"/>
<polygon points="70.4,986.3 74.4,993.2 66.4,993.2" stroke="#6e6e6e" stroke-width="0.5" fill="#fff"/>
<polygon points="70.4,1003.4 73.7,1005.0 74.5,1008.5 72.2,1011.4 68.6,1011.4 66.3,1008.5 67.1,1005.0" stroke="#6e6e6e" stroke-width="0.5" fill="#fff"/>
<text x="83.6" y="903.8" font-size="8.7" fill="#000"><tspan font-style="italic">A. sylvestris</tspan> subsp. <tspan font-style="italic">sylvestris</tspan></text>
<text x="83.6" y="921.7" font-size="8.7" fill="#000"><tspan font-style="italic">A. sylvestris</tspan> subsp. <tspan font-style="italic">nemorosa</tspan></text>
<text x="83.6" y="939.5" font-size="8.7" fill="#000"><tspan font-style="italic">A. sylvestris</tspan> subsp. <tspan font-style="italic">alpina</tspan></text>
<text x="83.6" y="957.4" font-size="8.7" fill="#000"><tspan font-style="italic">A. sylvestris</tspan> subsp. <tspan font-style="italic">fumarioides</tspan></text>
<text x="83.6" y="975.4" font-size="8.7" font-style="italic" fill="#000">A. nitida</text>
<text x="83.6" y="993.0" font-size="8.7" font-style="italic" fill="#000">A. lamprocarpa</text>
<text x="83.6" y="1010.7" font-size="8.7" font-style="italic" fill="#000">A. schmalhausenii</text>
</g>
<text x="99.5" y="534.8" font-size="8.7" text-anchor="middle" fill="#000">60°W</text>
<text x="183.8" y="534.8" font-size="8.7" text-anchor="middle" fill="#000">20°W</text>
<text x="268.1" y="534.8" font-size="8.7" text-anchor="middle" fill="#000">20°E</text>
<text x="352.4" y="534.8" font-size="8.7" text-anchor="middle" fill="#000">60°E</text>
<text x="436.7" y="534.8" font-size="8.7" text-anchor="middle" fill="#000">100°E</text>
<text x="521.0" y="534.8" font-size="8.7" text-anchor="middle" fill="#000">140°E</text>
<text x="605.3" y="534.8" font-size="8.7" text-anchor="middle" fill="#000">180°</text>
<text x="46.4" y="559.8" font-size="8.7" text-anchor="end" fill="#000">70°N</text>
<text x="46.4" y="647.0" font-size="8.7" text-anchor="end" fill="#000">50°N</text>
<text x="46.4" y="749.4" font-size="8.7" text-anchor="end" fill="#000">30°N</text>
<text x="46.4" y="860.0" font-size="8.7" text-anchor="end" fill="#000">10°N</text>
<text x="46.4" y="973.2" font-size="8.7" text-anchor="end" fill="#000">10°S</text>
<path d="M99.5 537.4L99.5 545.4M183.8 537.4L183.8 545.4M268.1 537.4L268.1 545.4M352.4 537.4L352.4 545.4M436.7 537.4L436.7 545.4M521.0 537.4L521.0 545.4M605.3 537.4L605.3 545.4M47.4 556.7L55.4 556.7M47.4 643.9L55.4 643.9M47.4 746.3L55.4 746.3M47.4 856.9L55.4 856.9M47.4 970.1L55.4 970.1" stroke="#000" stroke-width="2" fill="none"/>
<text x="0.2" y="512.2" font-size="23.6" fill="#000">B</text>
<rect x="55.4" y="545.4" width="628.4" height="469.4" fill="none" stroke="#000" stroke-width="2"/>
</svg>
</body></html>
